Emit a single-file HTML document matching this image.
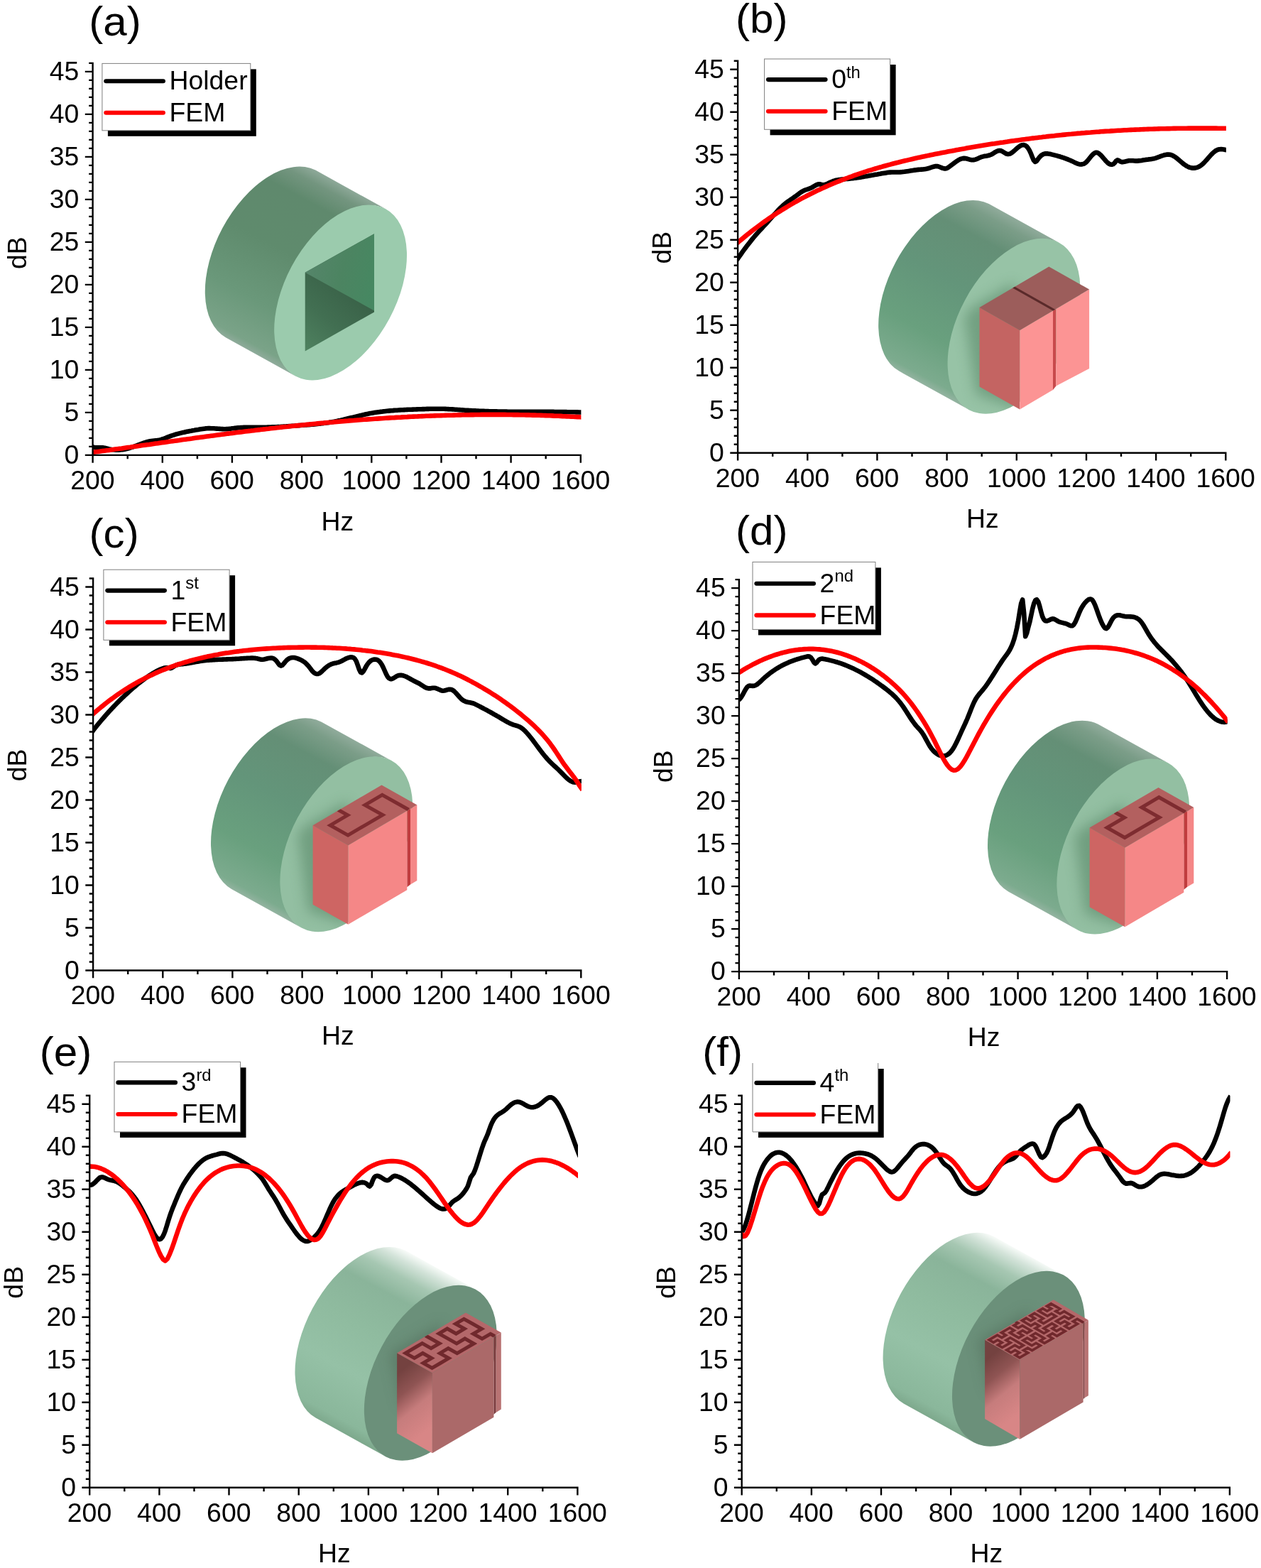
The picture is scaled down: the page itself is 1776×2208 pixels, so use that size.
<!DOCTYPE html>
<html lang="en"><head><meta charset="utf-8"><title>Transmission loss: measurement vs FEM</title>
<style>
html,body{margin:0;padding:0;background:#fff;}
body{width:1776px;height:2208px;overflow:hidden;}
svg{display:block;}
text{font-family:'Liberation Sans', Arial, Helvetica, sans-serif;fill:#000;}
.tk{font-size:36.8px;}
.lab{font-size:57px;}
.ax{stroke:#000;stroke-width:2.4;fill:none;stroke-linecap:butt;}
.cv{fill:none;stroke-width:6.6;stroke-linejoin:round;stroke-linecap:butt;}
.cvk{stroke-width:7.1;}
.lg{fill:none;stroke-width:6.1;stroke-linecap:round;}
</style></head><body>
<svg xmlns="http://www.w3.org/2000/svg" width="1776" height="2208" viewBox="0 0 1776 2208">
<rect width="1776" height="2208" fill="#fff"/>
<defs><filter id="blur8" x="-50%" y="-50%" width="200%" height="200%"><feGaussianBlur stdDeviation="9"/></filter><filter id="blur3" x="-50%" y="-50%" width="200%" height="200%"><feGaussianBlur stdDeviation="3"/></filter><linearGradient id="sga" gradientUnits="userSpaceOnUse" x1="367.2" y1="502.5" x2="493.5" y2="266.8"><stop offset="0" stop-color="#8fab9b"/><stop offset="0.04" stop-color="#7aa388"/><stop offset="0.25" stop-color="#6a987a"/><stop offset="0.55" stop-color="#5f8b6d"/><stop offset="0.84" stop-color="#5f896d"/><stop offset="0.94" stop-color="#73957f"/><stop offset="1" stop-color="#8da898"/></linearGradient><clipPath id="fca"><ellipse cx="479.6" cy="411.9" rx="133.7" ry="78.1" transform="rotate(-61.8 479.6 411.9)"/></clipPath><linearGradient id="sgb" gradientUnits="userSpaceOnUse" x1="1315.6" y1="549.9" x2="1441.9" y2="314.2"><stop offset="0" stop-color="#93b3a0"/><stop offset="0.04" stop-color="#7cab8e"/><stop offset="0.25" stop-color="#69a07e"/><stop offset="0.55" stop-color="#63957a"/><stop offset="0.82" stop-color="#648f76"/><stop offset="0.94" stop-color="#7b9d88"/><stop offset="1" stop-color="#90ab9b"/></linearGradient><clipPath id="fcb"><ellipse cx="1428" cy="459.3" rx="133.7" ry="78.1" transform="rotate(-61.8 1428 459.3)"/></clipPath><linearGradient id="sgc" gradientUnits="userSpaceOnUse" x1="375.4" y1="1279.3" x2="501.7" y2="1043.6"><stop offset="0" stop-color="#93b3a0"/><stop offset="0.04" stop-color="#7cab8e"/><stop offset="0.25" stop-color="#69a07e"/><stop offset="0.55" stop-color="#63957a"/><stop offset="0.82" stop-color="#648f76"/><stop offset="0.94" stop-color="#7b9d88"/><stop offset="1" stop-color="#90ab9b"/></linearGradient><clipPath id="fcc"><ellipse cx="487.8" cy="1188.7" rx="133.7" ry="78.1" transform="rotate(-61.8 487.8 1188.7)"/></clipPath><linearGradient id="sgd" gradientUnits="userSpaceOnUse" x1="1469.4" y1="1282.7" x2="1595.7" y2="1047"><stop offset="0" stop-color="#93b3a0"/><stop offset="0.04" stop-color="#7cab8e"/><stop offset="0.25" stop-color="#69a07e"/><stop offset="0.55" stop-color="#63957a"/><stop offset="0.82" stop-color="#648f76"/><stop offset="0.94" stop-color="#7b9d88"/><stop offset="1" stop-color="#90ab9b"/></linearGradient><clipPath id="fcd"><ellipse cx="1581.8" cy="1192.1" rx="133.7" ry="78.1" transform="rotate(-61.8 1581.8 1192.1)"/></clipPath><linearGradient id="sge" gradientUnits="userSpaceOnUse" x1="493.9" y1="2023.9" x2="620.2" y2="1788.2"><stop offset="0" stop-color="#7da88c"/><stop offset="0.06" stop-color="#8ab79b"/><stop offset="0.3" stop-color="#95c1a6"/><stop offset="0.55" stop-color="#8fbb9f"/><stop offset="0.76" stop-color="#8ab49a"/><stop offset="0.87" stop-color="#a6c7b2"/><stop offset="0.95" stop-color="#d3e3d9"/><stop offset="1" stop-color="#f6faf7"/></linearGradient><clipPath id="fce"><ellipse cx="606.3" cy="1933.3" rx="133.7" ry="78.1" transform="rotate(-61.8 606.3 1933.3)"/></clipPath><linearGradient id="sgf" gradientUnits="userSpaceOnUse" x1="1322" y1="2003.8" x2="1448.3" y2="1768.1"><stop offset="0" stop-color="#7da88c"/><stop offset="0.06" stop-color="#8ab79b"/><stop offset="0.3" stop-color="#95c1a6"/><stop offset="0.55" stop-color="#8fbb9f"/><stop offset="0.76" stop-color="#8ab49a"/><stop offset="0.87" stop-color="#a6c7b2"/><stop offset="0.95" stop-color="#d3e3d9"/><stop offset="1" stop-color="#f6faf7"/></linearGradient><clipPath id="fcf"><ellipse cx="1434.4" cy="1913.2" rx="133.7" ry="78.1" transform="rotate(-61.8 1434.4 1913.2)"/></clipPath></defs>
<g id="panel-a">
<g id="inset-a"><path d="M542.8 294.1L444.3 239.6A133.7 78.1 -61.8 0 0 317.9 475.2L416.4 529.7A133.7 78.1 -61.8 0 1 542.8 294.1Z" fill="url(#sga)"/><ellipse cx="479.6" cy="411.9" rx="133.7" ry="78.1" transform="rotate(-61.8 479.6 411.9)" fill="#9bcbad"/><defs><linearGradient id="ha1" gradientUnits="userSpaceOnUse" x1="429.7" y1="383.8" x2="527" y2="409.4"><stop offset="0" stop-color="#55856a"/><stop offset="0.5" stop-color="#4c8461"/><stop offset="1" stop-color="#468862"/></linearGradient><linearGradient id="ha2" gradientUnits="userSpaceOnUse" x1="429.7" y1="494.5" x2="507" y2="403.8"><stop offset="0" stop-color="#4f8260"/><stop offset="0.45" stop-color="#426f52"/><stop offset="1" stop-color="#385f46"/></linearGradient></defs><polygon points="429.7,383.8 527,329.3 527,439.4 429.7,494.5" fill="url(#ha2)"/><polygon points="429.7,383.8 527,329.3 527,437.4" fill="url(#ha1)"/></g>
<clipPath id="cpa"><rect x="130.6" y="82.9" width="687.8" height="558"/></clipPath>
<g clip-path="url(#cpa)">
<path class="cv" stroke="#000" stroke-width="7.6000000000000005" d="M129.3 628.7 L131.3 629.6 L133.3 630.2 L135.3 630.4 L137.3 630.4 L139.3 630.3 L141.3 630.2 L143.3 630.2 L145.3 630.4 L147.3 630.8 L149.3 631.3 L151.3 631.8 L153.3 632.3 L155.3 632.7 L157.3 633.1 L159.3 633.3 L161.3 633.5 L163.3 633.6 L165.3 633.7 L167.3 633.6 L169.3 633.5 L171.3 633.3 L173.3 633.1 L175.3 632.7 L177.3 632.3 L179.3 631.8 L181.3 631.3 L183.3 630.7 L185.3 630 L187.3 629.3 L189.3 628.6 L191.3 627.8 L193.3 627.1 L195.3 626.3 L197.3 625.6 L199.3 624.8 L201.3 624.1 L203.3 623.4 L205.3 622.8 L207.3 622.3 L209.3 621.8 L211.3 621.3 L213.3 621 L215.3 620.7 L217.3 620.5 L219.3 620.3 L221.3 620.1 L223.3 619.8 L225.3 619.4 L227.3 618.9 L229.3 618.2 L231.3 617.5 L233.3 616.7 L235.3 615.9 L237.3 615.1 L239.3 614.4 L241.3 613.7 L243.3 613 L245.3 612.3 L247.3 611.7 L249.3 611.1 L251.3 610.6 L253.3 610.1 L255.3 609.6 L257.3 609.1 L259.3 608.7 L261.3 608.2 L263.3 607.8 L265.3 607.4 L267.3 607 L269.3 606.7 L271.3 606.3 L273.3 606 L275.3 605.6 L277.3 605.3 L279.3 605 L281.3 604.6 L283.3 604.3 L285.3 604 L287.3 603.7 L289.3 603.4 L291.3 603.2 L293.3 603.1 L295.3 603.1 L297.3 603.2 L299.3 603.2 L301.3 603.3 L303.3 603.5 L305.3 603.6 L307.3 603.8 L309.3 603.9 L311.3 604 L313.3 604.1 L315.3 604.2 L317.3 604.2 L319.3 604.1 L321.3 604 L323.3 603.8 L325.3 603.6 L327.3 603.3 L329.3 603.1 L331.3 602.8 L333.3 602.6 L335.3 602.4 L337.3 602.2 L339.3 602.1 L341.3 602 L343.3 601.9 L345.3 601.8 L347.3 601.8 L349.3 601.8 L351.3 601.8 L353.3 601.8 L355.3 601.8 L357.3 601.8 L359.3 601.8 L361.3 601.8 L363.3 601.9 L365.3 601.8 L367.3 601.8 L369.3 601.8 L371.3 601.8 L373.3 601.7 L375.3 601.7 L377.3 601.6 L379.3 601.6 L381.3 601.5 L383.3 601.4 L385.3 601.4 L387.3 601.3 L389.3 601.2 L391.3 601.1 L393.3 601 L395.3 600.9 L397.3 600.7 L399.3 600.6 L401.3 600.5 L403.3 600.4 L405.3 600.2 L407.3 600.1 L409.3 600 L411.3 599.8 L413.3 599.7 L415.3 599.6 L417.3 599.4 L419.3 599.3 L421.3 599.1 L423.3 599 L425.3 598.8 L427.3 598.7 L429.3 598.5 L431.3 598.4 L433.3 598.2 L435.3 598.1 L437.3 597.9 L439.3 597.8 L441.3 597.6 L443.3 597.4 L445.3 597.2 L447.3 597 L449.3 596.8 L451.3 596.6 L453.3 596.3 L455.3 596.1 L457.3 595.8 L459.3 595.5 L461.3 595.3 L463.3 595 L465.3 594.6 L467.3 594.3 L469.3 593.9 L471.3 593.6 L473.3 593.2 L475.3 592.8 L477.3 592.3 L479.3 591.9 L481.3 591.4 L483.3 591 L485.3 590.5 L487.3 590 L489.3 589.5 L491.3 589 L493.3 588.5 L495.3 588.1 L497.3 587.6 L499.3 587.1 L501.3 586.6 L503.3 586.1 L505.3 585.6 L507.3 585.1 L509.3 584.7 L511.3 584.2 L513.3 583.8 L515.3 583.3 L517.3 582.9 L519.3 582.5 L521.3 582.1 L523.3 581.8 L525.3 581.4 L527.3 581.1 L529.3 580.8 L531.3 580.5 L533.3 580.2 L535.3 579.9 L537.3 579.7 L539.3 579.4 L541.3 579.2 L543.3 579 L545.3 578.8 L547.3 578.6 L549.3 578.4 L551.3 578.2 L553.3 578.1 L555.3 577.9 L557.3 577.8 L559.3 577.7 L561.3 577.5 L563.3 577.4 L565.3 577.3 L567.3 577.2 L569.3 577.1 L571.3 577 L573.3 576.9 L575.3 576.8 L577.3 576.8 L579.3 576.7 L581.3 576.6 L583.3 576.5 L585.3 576.5 L587.3 576.4 L589.3 576.3 L591.3 576.3 L593.3 576.2 L595.3 576.1 L597.3 576.1 L599.3 576 L601.3 575.9 L603.3 575.9 L605.3 575.8 L607.3 575.8 L609.3 575.8 L611.3 575.8 L613.3 575.7 L615.3 575.7 L617.3 575.7 L619.3 575.7 L621.3 575.8 L623.3 575.8 L625.3 575.8 L627.3 575.9 L629.3 576 L631.3 576.1 L633.3 576.2 L635.3 576.3 L637.3 576.4 L639.3 576.5 L641.3 576.7 L643.3 576.8 L645.3 577 L647.3 577.1 L649.3 577.3 L651.3 577.4 L653.3 577.5 L655.3 577.7 L657.3 577.8 L659.3 577.9 L661.3 578 L663.3 578.1 L665.3 578.2 L667.3 578.3 L669.3 578.4 L671.3 578.5 L673.3 578.6 L675.3 578.7 L677.3 578.8 L679.3 578.9 L681.3 578.9 L683.3 579 L685.3 579.1 L687.3 579.1 L689.3 579.2 L691.3 579.2 L693.3 579.3 L695.3 579.3 L697.3 579.4 L699.3 579.4 L701.3 579.5 L703.3 579.5 L705.3 579.5 L707.3 579.6 L709.3 579.6 L711.3 579.6 L713.3 579.6 L715.3 579.7 L717.3 579.7 L719.3 579.7 L721.3 579.7 L723.3 579.7 L725.3 579.7 L727.3 579.8 L729.3 579.8 L731.3 579.8 L733.3 579.8 L735.3 579.8 L737.3 579.8 L739.3 579.8 L741.3 579.8 L743.3 579.8 L745.3 579.8 L747.3 579.8 L749.3 579.8 L751.3 579.8 L753.3 579.8 L755.3 579.8 L757.3 579.9 L759.3 579.9 L761.3 579.9 L763.3 579.9 L765.3 579.9 L767.3 579.9 L769.3 579.9 L771.3 579.9 L773.3 579.9 L775.3 579.9 L777.3 579.9 L779.3 579.9 L781.3 580 L783.3 580 L785.3 580 L787.3 580 L789.3 580 L791.3 580 L793.3 580.1 L795.3 580.1 L797.3 580.1 L799.3 580.2 L801.3 580.2 L803.3 580.2 L805.3 580.3 L807.3 580.3 L809.3 580.3 L811.3 580.4 L813.3 580.4 L815.3 580.5 L817.3 580.5 L819.3 580.6 L820.4 580.6"/>
<path class="cv" stroke="#f00" stroke-width="7.2" d="M129.3 637.2 L132.3 636.7 L135.3 636.3 L138.3 635.9 L141.3 635.5 L144.3 635.1 L147.3 634.7 L150.3 634.3 L153.3 633.9 L156.3 633.4 L159.3 633 L162.3 632.6 L165.3 632.2 L168.3 631.8 L171.3 631.4 L174.3 630.9 L177.3 630.5 L180.3 630.1 L183.3 629.7 L186.3 629.2 L189.3 628.8 L192.3 628.4 L195.3 628 L198.3 627.5 L201.3 627.1 L204.3 626.7 L207.3 626.3 L210.3 625.9 L213.3 625.4 L216.3 625 L219.3 624.6 L222.3 624.2 L225.3 623.7 L228.3 623.3 L231.3 622.9 L234.3 622.5 L237.3 622 L240.3 621.6 L243.3 621.2 L246.3 620.8 L249.3 620.4 L252.3 620 L255.3 619.5 L258.3 619.1 L261.3 618.7 L264.3 618.3 L267.3 617.9 L270.3 617.5 L273.3 617 L276.3 616.6 L279.3 616.2 L282.3 615.8 L285.3 615.4 L288.3 615 L291.3 614.6 L294.3 614.2 L297.3 613.8 L300.3 613.4 L303.3 613 L306.3 612.6 L309.3 612.2 L312.3 611.8 L315.3 611.4 L318.3 611 L321.3 610.6 L324.3 610.3 L327.3 609.9 L330.3 609.5 L333.3 609.1 L336.3 608.7 L339.3 608.4 L342.3 608 L345.3 607.6 L348.3 607.2 L351.3 606.9 L354.3 606.5 L357.3 606.2 L360.3 605.8 L363.3 605.4 L366.3 605.1 L369.3 604.7 L372.3 604.4 L375.3 604 L378.3 603.7 L381.3 603.3 L384.3 603 L387.3 602.7 L390.3 602.3 L393.3 602 L396.3 601.6 L399.3 601.3 L402.3 601 L405.3 600.7 L408.3 600.3 L411.3 600 L414.3 599.7 L417.3 599.4 L420.3 599.1 L423.3 598.8 L426.3 598.5 L429.3 598.2 L432.3 597.9 L435.3 597.6 L438.3 597.3 L441.3 597 L444.3 596.7 L447.3 596.4 L450.3 596.1 L453.3 595.8 L456.3 595.6 L459.3 595.3 L462.3 595 L465.3 594.7 L468.3 594.5 L471.3 594.2 L474.3 593.9 L477.3 593.7 L480.3 593.4 L483.3 593.2 L486.3 592.9 L489.3 592.7 L492.3 592.4 L495.3 592.2 L498.3 592 L501.3 591.7 L504.3 591.5 L507.3 591.3 L510.3 591 L513.3 590.8 L516.3 590.6 L519.3 590.4 L522.3 590.2 L525.3 590 L528.3 589.8 L531.3 589.6 L534.3 589.4 L537.3 589.2 L540.3 589 L543.3 588.8 L546.3 588.6 L549.3 588.4 L552.3 588.2 L555.3 588.1 L558.3 587.9 L561.3 587.7 L564.3 587.6 L567.3 587.4 L570.3 587.2 L573.3 587.1 L576.3 586.9 L579.3 586.8 L582.3 586.6 L585.3 586.5 L588.3 586.4 L591.3 586.2 L594.3 586.1 L597.3 586 L600.3 585.8 L603.3 585.7 L606.3 585.6 L609.3 585.5 L612.3 585.4 L615.3 585.3 L618.3 585.2 L621.3 585.1 L624.3 585 L627.3 584.9 L630.3 584.8 L633.3 584.7 L636.3 584.7 L639.3 584.6 L642.3 584.5 L645.3 584.4 L648.3 584.4 L651.3 584.3 L654.3 584.3 L657.3 584.2 L660.3 584.2 L663.3 584.1 L666.3 584.1 L669.3 584 L672.3 584 L675.3 584 L678.3 583.9 L681.3 583.9 L684.3 583.9 L687.3 583.9 L690.3 583.9 L693.3 583.9 L696.3 583.9 L699.3 583.9 L702.3 583.9 L705.3 583.9 L708.3 583.9 L711.3 583.9 L714.3 584 L717.3 584 L720.3 584 L723.3 584.1 L726.3 584.1 L729.3 584.1 L732.3 584.2 L735.3 584.2 L738.3 584.3 L741.3 584.4 L744.3 584.4 L747.3 584.5 L750.3 584.6 L753.3 584.6 L756.3 584.7 L759.3 584.8 L762.3 584.9 L765.3 585 L768.3 585.1 L771.3 585.2 L774.3 585.3 L777.3 585.4 L780.3 585.6 L783.3 585.7 L786.3 585.8 L789.3 585.9 L792.3 586.1 L795.3 586.2 L798.3 586.4 L801.3 586.5 L804.3 586.7 L807.3 586.8 L810.3 587 L813.3 587.1 L816.3 587.3 L819.3 587.5 L820.4 587.6"/>
</g>
<path class="ax" d="M130.6 87.7 V642.1M129.4 640.9 H819M130.6 640.9h-10.8M130.6 628.9h-5.4M130.6 616.9h-5.4M130.6 604.9h-5.4M130.6 592.9h-5.4M130.6 580.9h-10.8M130.6 568.9h-5.4M130.6 556.9h-5.4M130.6 544.9h-5.4M130.6 532.9h-5.4M130.6 520.9h-10.8M130.6 508.9h-5.4M130.6 496.9h-5.4M130.6 484.9h-5.4M130.6 472.9h-5.4M130.6 460.9h-10.8M130.6 448.9h-5.4M130.6 436.9h-5.4M130.6 424.9h-5.4M130.6 412.9h-5.4M130.6 400.9h-10.8M130.6 388.9h-5.4M130.6 376.9h-5.4M130.6 364.9h-5.4M130.6 352.9h-5.4M130.6 340.9h-10.8M130.6 328.9h-5.4M130.6 316.9h-5.4M130.6 304.9h-5.4M130.6 292.9h-5.4M130.6 280.9h-10.8M130.6 268.9h-5.4M130.6 256.9h-5.4M130.6 244.9h-5.4M130.6 232.9h-5.4M130.6 220.9h-10.8M130.6 208.9h-5.4M130.6 196.9h-5.4M130.6 184.9h-5.4M130.6 172.9h-5.4M130.6 160.9h-10.8M130.6 148.9h-5.4M130.6 136.9h-5.4M130.6 124.9h-5.4M130.6 112.9h-5.4M130.6 100.9h-10.8M130.6 88.9h-5.4M130.6 640.9v10.8M179.7 640.9v5.4M228.8 640.9v10.8M277.9 640.9v5.4M326.9 640.9v10.8M376 640.9v5.4M425.1 640.9v10.8M474.2 640.9v5.4M523.3 640.9v10.8M572.4 640.9v5.4M621.5 640.9v10.8M670.5 640.9v5.4M719.6 640.9v10.8M768.7 640.9v5.4M817.8 640.9v10.8"/>
<text class="tk" transform="translate(111.4 652.9) scale(1.016 1)" text-anchor="end">0</text>
<text class="tk" transform="translate(111.4 592.9) scale(1.016 1)" text-anchor="end">5</text>
<text class="tk" transform="translate(111.4 532.9) scale(1.016 1)" text-anchor="end">10</text>
<text class="tk" transform="translate(111.4 472.9) scale(1.016 1)" text-anchor="end">15</text>
<text class="tk" transform="translate(111.4 412.9) scale(1.016 1)" text-anchor="end">20</text>
<text class="tk" transform="translate(111.4 352.9) scale(1.016 1)" text-anchor="end">25</text>
<text class="tk" transform="translate(111.4 292.9) scale(1.016 1)" text-anchor="end">30</text>
<text class="tk" transform="translate(111.4 232.9) scale(1.016 1)" text-anchor="end">35</text>
<text class="tk" transform="translate(111.4 172.9) scale(1.016 1)" text-anchor="end">40</text>
<text class="tk" transform="translate(111.4 112.9) scale(1.016 1)" text-anchor="end">45</text>
<text class="tk" transform="translate(130.4 688.7) scale(1.016 1)" text-anchor="middle">200</text>
<text class="tk" transform="translate(228.6 688.7) scale(1.016 1)" text-anchor="middle">400</text>
<text class="tk" transform="translate(326.7 688.7) scale(1.016 1)" text-anchor="middle">600</text>
<text class="tk" transform="translate(424.9 688.7) scale(1.016 1)" text-anchor="middle">800</text>
<text class="tk" transform="translate(523.1 688.7) scale(1.016 1)" text-anchor="middle">1000</text>
<text class="tk" transform="translate(621.3 688.7) scale(1.016 1)" text-anchor="middle">1200</text>
<text class="tk" transform="translate(719.4 688.7) scale(1.016 1)" text-anchor="middle">1400</text>
<text class="tk" transform="translate(817.6 688.7) scale(1.016 1)" text-anchor="middle">1600</text>
<text class="tk" transform="translate(475.3 746.5) scale(1.016 1)" text-anchor="middle">Hz</text>
<text class="tk" transform="translate(36.6 356.2) rotate(-90) scale(1.016 1)" text-anchor="middle">dB</text>
<text class="lab" transform="translate(125.3 50.4) scale(1.055 1)" text-anchor="start">(a)</text>
<rect x="151.9" y="97.4" width="208.9" height="94.4" fill="#000"/>
<rect x="143.9" y="89.4" width="208.9" height="94.4" fill="#fff" stroke="#7f7f7f" stroke-width="1"/>
<path class="lg" stroke="#000" d="M149.3 114.2H229.9"/>
<path class="lg" stroke="#f00" d="M149.3 158.8H229.9"/>
<text class="tk" transform="translate(238.5 126.2) scale(1.016 1)" text-anchor="start">Holder</text>
<text class="tk" transform="translate(238.5 171.1) scale(1.016 1)" text-anchor="start">FEM</text>
</g>
<g id="panel-b">
<g id="inset-b"><path d="M1491.2 341.5L1392.7 287A133.7 78.1 -61.8 0 0 1266.3 522.6L1364.8 577.1A133.7 78.1 -61.8 0 1 1491.2 341.5Z" fill="url(#sgb)"/><ellipse cx="1428" cy="459.3" rx="133.7" ry="78.1" transform="rotate(-61.8 1428 459.3)" fill="#97c3a6"/><g clip-path="url(#fcb)"><polygon points="1368.9,432.8 1427.6,398.2 1450.3,466.7 1436.3,576.5 1375,555.6 1358,445.8" fill="#5c8a6a" opacity="0.62" filter="url(#blur8)"/></g><polygon points="1379.5,433.1 1436.3,465.1 1436.3,576.5 1379.5,544.5" fill="#c46462"/><polygon points="1436.3,465.1 1483,437.6 1483,549 1436.3,576.5" fill="#fc9494"/><polygon points="1483,437.6 1487.4,435 1487.4,543.4 1483,549" fill="#c84a4c"/><polygon points="1487.4,435 1534.1,407.5 1534.1,518.9 1487.4,543.4" fill="#fc9494"/><polygon points="1379.5,433.1 1477.3,375.5 1534.1,407.5 1436.3,465.1" fill="#9c5d5b"/><polygon points="1426.2,405.6 1429.4,403.7 1486.2,435.7 1483,437.6" fill="#5a2a2a"/></g>
<clipPath id="cpb"><rect x="1039.1" y="79.7" width="687.8" height="558"/></clipPath>
<g clip-path="url(#cpb)">
<path class="cv" stroke="#000" stroke-width="6.800000000000001" d="M1037.8 366.2 L1039.8 363.2 L1041.8 360.3 L1043.8 357.5 L1045.8 354.7 L1047.8 351.9 L1049.8 349.2 L1051.8 346.6 L1053.8 344 L1055.8 341.4 L1057.8 338.9 L1059.8 336.4 L1061.8 334 L1063.8 331.6 L1065.8 329.3 L1067.8 327.1 L1069.8 324.9 L1071.8 322.7 L1073.8 320.6 L1075.8 318.4 L1077.8 316.2 L1079.8 314.1 L1081.8 311.8 L1083.8 309.6 L1085.8 307.3 L1087.8 305.1 L1089.8 302.8 L1091.8 300.6 L1093.8 298.4 L1095.8 296.2 L1097.8 294.2 L1099.8 292.2 L1101.8 290.3 L1103.8 288.5 L1105.8 286.8 L1107.8 285.2 L1109.8 283.8 L1111.8 282.4 L1113.8 281 L1115.8 279.6 L1117.8 278.2 L1119.8 276.8 L1121.8 275.3 L1123.8 273.8 L1125.8 272.3 L1127.8 270.9 L1129.8 269.7 L1131.8 268.6 L1133.8 267.7 L1135.8 267 L1137.8 266.3 L1139.8 265.6 L1141.8 264.8 L1143.8 263.9 L1145.8 262.7 L1147.8 261.5 L1149.8 260.4 L1151.8 259.6 L1153.8 259.3 L1155.8 259.6 L1157.8 260.2 L1159.8 260.4 L1161.8 260.1 L1163.8 259.4 L1165.8 258.5 L1167.8 257.5 L1169.8 256.5 L1171.8 255.7 L1173.8 254.9 L1175.8 254.3 L1177.8 253.8 L1179.8 253.4 L1181.8 253 L1183.8 252.8 L1185.8 252.5 L1187.8 252.4 L1189.8 252.2 L1191.8 252 L1193.8 251.9 L1195.8 251.7 L1197.8 251.5 L1199.8 251.3 L1201.8 251.1 L1203.8 250.8 L1205.8 250.6 L1207.8 250.3 L1209.8 250 L1211.8 249.7 L1213.8 249.3 L1215.8 249 L1217.8 248.6 L1219.8 248.3 L1221.8 247.9 L1223.8 247.6 L1225.8 247.2 L1227.8 246.8 L1229.8 246.5 L1231.8 246.1 L1233.8 245.7 L1235.8 245.4 L1237.8 245 L1239.8 244.7 L1241.8 244.3 L1243.8 244 L1245.8 243.7 L1247.8 243.4 L1249.8 243.1 L1251.8 242.8 L1253.8 242.6 L1255.8 242.5 L1257.8 242.5 L1259.8 242.5 L1261.8 242.5 L1263.8 242.5 L1265.8 242.5 L1267.8 242.4 L1269.8 242.2 L1271.8 242 L1273.8 241.8 L1275.8 241.5 L1277.8 241.2 L1279.8 240.9 L1281.8 240.6 L1283.8 240.2 L1285.8 239.9 L1287.8 239.6 L1289.8 239.4 L1291.8 239.1 L1293.8 238.9 L1295.8 238.8 L1297.8 238.6 L1299.8 238.5 L1301.8 238.2 L1303.8 237.9 L1305.8 237.6 L1307.8 237 L1309.8 236.4 L1311.8 235.7 L1313.8 235 L1315.8 234.5 L1317.8 234.1 L1319.8 234.1 L1321.8 234.5 L1323.8 235.3 L1325.8 236.1 L1327.8 236.9 L1329.8 237.4 L1331.8 237.5 L1333.8 236.8 L1335.8 235.7 L1337.8 234.2 L1339.8 232.7 L1341.8 231.2 L1343.8 229.6 L1345.8 228.1 L1347.8 226.7 L1349.8 225.4 L1351.8 224.4 L1353.8 223.6 L1355.8 223.1 L1357.8 222.9 L1359.8 223.1 L1361.8 223.5 L1363.8 224.1 L1365.8 224.7 L1367.8 225.1 L1369.8 225.3 L1371.8 225.1 L1373.8 224.6 L1375.8 223.9 L1377.8 223 L1379.8 222.1 L1381.8 221.2 L1383.8 220.6 L1385.8 220.1 L1387.8 219.7 L1389.8 219.4 L1391.8 219 L1393.8 218.5 L1395.8 217.7 L1397.8 216.7 L1399.8 215.4 L1401.8 214.2 L1403.8 213.1 L1405.8 212.3 L1407.8 212 L1409.8 212.3 L1411.8 213.2 L1413.8 214.5 L1415.8 215.7 L1417.8 216.7 L1419.8 217.1 L1421.8 216.8 L1423.8 215.9 L1425.8 214.5 L1427.8 212.9 L1429.8 211.1 L1431.8 209.3 L1433.8 207.6 L1435.8 206.1 L1437.8 204.9 L1439.8 204.2 L1441.8 204.1 L1443.8 204.6 L1445.8 206 L1447.8 208.3 L1449.8 211.7 L1451.8 215.9 L1453.8 221 L1455.8 225.6 L1457.8 227.9 L1459.8 227 L1461.8 224.3 L1463.8 221.6 L1465.8 219.5 L1467.8 218 L1469.8 217 L1471.8 216.4 L1473.8 216.3 L1475.8 216.4 L1477.8 216.7 L1479.8 217.1 L1481.8 217.6 L1483.8 218.1 L1485.8 218.6 L1487.8 219.1 L1489.8 219.7 L1491.8 220.2 L1493.8 220.9 L1495.8 221.5 L1497.8 222.2 L1499.8 222.9 L1501.8 223.6 L1503.8 224.4 L1505.8 225.2 L1507.8 226 L1509.8 226.9 L1511.8 227.9 L1513.8 228.9 L1515.8 229.8 L1517.8 230.6 L1519.8 231.2 L1521.8 231.5 L1523.8 231.4 L1525.8 230.9 L1527.8 230 L1529.8 228.4 L1531.8 226.3 L1533.8 223.8 L1535.8 221.3 L1537.8 218.8 L1539.8 216.8 L1541.8 215.3 L1543.8 214.7 L1545.8 215.1 L1547.8 216.2 L1549.8 217.9 L1551.8 220 L1553.8 222.3 L1555.8 224.7 L1557.8 227 L1559.8 229 L1561.8 230.5 L1563.8 231.5 L1565.8 231.8 L1567.8 231.2 L1569.8 229.5 L1571.8 226.8 L1573.8 225.4 L1575.8 226.1 L1577.8 227.4 L1579.8 228.1 L1581.8 228.1 L1583.8 227.8 L1585.8 227.2 L1587.8 226.7 L1589.8 226.3 L1591.8 226.2 L1593.8 226.2 L1595.8 226.3 L1597.8 226.5 L1599.8 226.6 L1601.8 226.6 L1603.8 226.4 L1605.8 226.2 L1607.8 225.9 L1609.8 225.5 L1611.8 225.2 L1613.8 224.9 L1615.8 224.7 L1617.8 224.4 L1619.8 224.2 L1621.8 223.9 L1623.8 223.6 L1625.8 223.2 L1627.8 222.6 L1629.8 221.9 L1631.8 221.2 L1633.8 220.4 L1635.8 219.7 L1637.8 219 L1639.8 218.3 L1641.8 217.9 L1643.8 217.6 L1645.8 217.5 L1647.8 217.8 L1649.8 218.3 L1651.8 219.1 L1653.8 220.3 L1655.8 221.6 L1657.8 223.2 L1659.8 224.8 L1661.8 226.6 L1663.8 228.3 L1665.8 230 L1667.8 231.5 L1669.8 232.9 L1671.8 234.1 L1673.8 235.1 L1675.8 235.9 L1677.8 236.4 L1679.8 236.6 L1681.8 236.6 L1683.8 236.4 L1685.8 235.8 L1687.8 235.1 L1689.8 234 L1691.8 232.6 L1693.8 231 L1695.8 229.1 L1697.8 226.9 L1699.8 224.7 L1701.8 222.4 L1703.8 220.1 L1705.8 217.9 L1707.8 215.9 L1709.8 214.1 L1711.8 212.5 L1713.8 211.4 L1715.8 210.6 L1717.8 210.2 L1719.8 210.1 L1721.8 210.3 L1723.8 210.5 L1725.8 210.9 L1727.6 211.2"/>
<path class="cv" stroke="#f00" stroke-width="6.4" d="M1037.8 342.7 L1040.8 340.1 L1043.8 337.6 L1046.8 335.1 L1049.8 332.6 L1052.8 330.2 L1055.8 327.8 L1058.8 325.4 L1061.8 323.1 L1064.8 320.8 L1067.8 318.6 L1070.8 316.4 L1073.8 314.2 L1076.8 312 L1079.8 309.9 L1082.8 307.8 L1085.8 305.8 L1088.8 303.8 L1091.8 301.8 L1094.8 299.8 L1097.8 297.9 L1100.8 296 L1103.8 294.1 L1106.8 292.3 L1109.8 290.5 L1112.8 288.7 L1115.8 287 L1118.8 285.2 L1121.8 283.6 L1124.8 281.9 L1127.8 280.2 L1130.8 278.6 L1133.8 277.1 L1136.8 275.5 L1139.8 274 L1142.8 272.5 L1145.8 271 L1148.8 269.5 L1151.8 268.1 L1154.8 266.7 L1157.8 265.3 L1160.8 263.9 L1163.8 262.6 L1166.8 261.3 L1169.8 260 L1172.8 258.7 L1175.8 257.5 L1178.8 256.3 L1181.8 255.1 L1184.8 253.9 L1187.8 252.7 L1190.8 251.6 L1193.8 250.5 L1196.8 249.3 L1199.8 248.3 L1202.8 247.2 L1205.8 246.1 L1208.8 245.1 L1211.8 244.1 L1214.8 243.1 L1217.8 242.1 L1220.8 241.2 L1223.8 240.2 L1226.8 239.3 L1229.8 238.4 L1232.8 237.5 L1235.8 236.6 L1238.8 235.7 L1241.8 234.9 L1244.8 234 L1247.8 233.2 L1250.8 232.4 L1253.8 231.6 L1256.8 230.8 L1259.8 230 L1262.8 229.2 L1265.8 228.5 L1268.8 227.7 L1271.8 227 L1274.8 226.3 L1277.8 225.6 L1280.8 224.9 L1283.8 224.2 L1286.8 223.5 L1289.8 222.8 L1292.8 222.1 L1295.8 221.5 L1298.8 220.8 L1301.8 220.2 L1304.8 219.6 L1307.8 218.9 L1310.8 218.3 L1313.8 217.7 L1316.8 217.1 L1319.8 216.5 L1322.8 215.9 L1325.8 215.3 L1328.8 214.7 L1331.8 214.2 L1334.8 213.6 L1337.8 213 L1340.8 212.5 L1343.8 211.9 L1346.8 211.3 L1349.8 210.8 L1352.8 210.2 L1355.8 209.7 L1358.8 209.2 L1361.8 208.6 L1364.8 208.1 L1367.8 207.6 L1370.8 207.1 L1373.8 206.6 L1376.8 206.1 L1379.8 205.6 L1382.8 205.1 L1385.8 204.6 L1388.8 204.1 L1391.8 203.6 L1394.8 203.1 L1397.8 202.6 L1400.8 202.2 L1403.8 201.7 L1406.8 201.3 L1409.8 200.8 L1412.8 200.4 L1415.8 199.9 L1418.8 199.5 L1421.8 199 L1424.8 198.6 L1427.8 198.2 L1430.8 197.8 L1433.8 197.4 L1436.8 197 L1439.8 196.6 L1442.8 196.2 L1445.8 195.8 L1448.8 195.4 L1451.8 195 L1454.8 194.6 L1457.8 194.3 L1460.8 193.9 L1463.8 193.5 L1466.8 193.2 L1469.8 192.8 L1472.8 192.5 L1475.8 192.1 L1478.8 191.8 L1481.8 191.5 L1484.8 191.2 L1487.8 190.8 L1490.8 190.5 L1493.8 190.2 L1496.8 189.9 L1499.8 189.6 L1502.8 189.3 L1505.8 189 L1508.8 188.8 L1511.8 188.5 L1514.8 188.2 L1517.8 187.9 L1520.8 187.7 L1523.8 187.4 L1526.8 187.2 L1529.8 186.9 L1532.8 186.7 L1535.8 186.5 L1538.8 186.2 L1541.8 186 L1544.8 185.8 L1547.8 185.6 L1550.8 185.3 L1553.8 185.1 L1556.8 184.9 L1559.8 184.7 L1562.8 184.6 L1565.8 184.4 L1568.8 184.2 L1571.8 184 L1574.8 183.8 L1577.8 183.7 L1580.8 183.5 L1583.8 183.3 L1586.8 183.2 L1589.8 183 L1592.8 182.9 L1595.8 182.8 L1598.8 182.6 L1601.8 182.5 L1604.8 182.4 L1607.8 182.2 L1610.8 182.1 L1613.8 182 L1616.8 181.9 L1619.8 181.8 L1622.8 181.7 L1625.8 181.6 L1628.8 181.5 L1631.8 181.4 L1634.8 181.3 L1637.8 181.3 L1640.8 181.2 L1643.8 181.1 L1646.8 181.1 L1649.8 181 L1652.8 180.9 L1655.8 180.9 L1658.8 180.8 L1661.8 180.8 L1664.8 180.7 L1667.8 180.7 L1670.8 180.7 L1673.8 180.6 L1676.8 180.6 L1679.8 180.6 L1682.8 180.6 L1685.8 180.6 L1688.8 180.6 L1691.8 180.6 L1694.8 180.6 L1697.8 180.6 L1700.8 180.6 L1703.8 180.6 L1706.8 180.6 L1709.8 180.6 L1712.8 180.6 L1715.8 180.7 L1718.8 180.7 L1721.8 180.7 L1724.8 180.8 L1727.6 180.8"/>
</g>
<path class="ax" d="M1039.1 84.5 V638.9M1037.9 637.7 H1727.5M1039.1 637.7h-10.8M1039.1 625.7h-5.4M1039.1 613.7h-5.4M1039.1 601.7h-5.4M1039.1 589.7h-5.4M1039.1 577.7h-10.8M1039.1 565.7h-5.4M1039.1 553.7h-5.4M1039.1 541.7h-5.4M1039.1 529.7h-5.4M1039.1 517.7h-10.8M1039.1 505.7h-5.4M1039.1 493.7h-5.4M1039.1 481.7h-5.4M1039.1 469.7h-5.4M1039.1 457.7h-10.8M1039.1 445.7h-5.4M1039.1 433.7h-5.4M1039.1 421.7h-5.4M1039.1 409.7h-5.4M1039.1 397.7h-10.8M1039.1 385.7h-5.4M1039.1 373.7h-5.4M1039.1 361.7h-5.4M1039.1 349.7h-5.4M1039.1 337.7h-10.8M1039.1 325.7h-5.4M1039.1 313.7h-5.4M1039.1 301.7h-5.4M1039.1 289.7h-5.4M1039.1 277.7h-10.8M1039.1 265.7h-5.4M1039.1 253.7h-5.4M1039.1 241.7h-5.4M1039.1 229.7h-5.4M1039.1 217.7h-10.8M1039.1 205.7h-5.4M1039.1 193.7h-5.4M1039.1 181.7h-5.4M1039.1 169.7h-5.4M1039.1 157.7h-10.8M1039.1 145.7h-5.4M1039.1 133.7h-5.4M1039.1 121.7h-5.4M1039.1 109.7h-5.4M1039.1 97.7h-10.8M1039.1 85.7h-5.4M1039.1 637.7v10.8M1088.2 637.7v5.4M1137.3 637.7v10.8M1186.4 637.7v5.4M1235.4 637.7v10.8M1284.5 637.7v5.4M1333.6 637.7v10.8M1382.7 637.7v5.4M1431.8 637.7v10.8M1480.9 637.7v5.4M1530 637.7v10.8M1579 637.7v5.4M1628.1 637.7v10.8M1677.2 637.7v5.4M1726.3 637.7v10.8"/>
<text class="tk" transform="translate(1019.9 649.7) scale(1.016 1)" text-anchor="end">0</text>
<text class="tk" transform="translate(1019.9 589.7) scale(1.016 1)" text-anchor="end">5</text>
<text class="tk" transform="translate(1019.9 529.7) scale(1.016 1)" text-anchor="end">10</text>
<text class="tk" transform="translate(1019.9 469.7) scale(1.016 1)" text-anchor="end">15</text>
<text class="tk" transform="translate(1019.9 409.7) scale(1.016 1)" text-anchor="end">20</text>
<text class="tk" transform="translate(1019.9 349.7) scale(1.016 1)" text-anchor="end">25</text>
<text class="tk" transform="translate(1019.9 289.7) scale(1.016 1)" text-anchor="end">30</text>
<text class="tk" transform="translate(1019.9 229.7) scale(1.016 1)" text-anchor="end">35</text>
<text class="tk" transform="translate(1019.9 169.7) scale(1.016 1)" text-anchor="end">40</text>
<text class="tk" transform="translate(1019.9 109.7) scale(1.016 1)" text-anchor="end">45</text>
<text class="tk" transform="translate(1038.9 685.5) scale(1.016 1)" text-anchor="middle">200</text>
<text class="tk" transform="translate(1137.1 685.5) scale(1.016 1)" text-anchor="middle">400</text>
<text class="tk" transform="translate(1235.2 685.5) scale(1.016 1)" text-anchor="middle">600</text>
<text class="tk" transform="translate(1333.4 685.5) scale(1.016 1)" text-anchor="middle">800</text>
<text class="tk" transform="translate(1431.6 685.5) scale(1.016 1)" text-anchor="middle">1000</text>
<text class="tk" transform="translate(1529.8 685.5) scale(1.016 1)" text-anchor="middle">1200</text>
<text class="tk" transform="translate(1627.9 685.5) scale(1.016 1)" text-anchor="middle">1400</text>
<text class="tk" transform="translate(1726.1 685.5) scale(1.016 1)" text-anchor="middle">1600</text>
<text class="tk" transform="translate(1383.8 743.3) scale(1.016 1)" text-anchor="middle">Hz</text>
<text class="tk" transform="translate(945.1 348.7) rotate(-90) scale(1.016 1)" text-anchor="middle">dB</text>
<text class="lab" transform="translate(1036 46) scale(1.055 1)" text-anchor="start">(b)</text>
<rect x="1084.6" y="91" width="177" height="99.3" fill="#000"/>
<rect x="1076.6" y="83" width="177" height="99.3" fill="#fff" stroke="#7f7f7f" stroke-width="1"/>
<path class="lg" stroke="#000" d="M1082 112.1H1162.6"/>
<path class="lg" stroke="#f00" d="M1082 156.7H1162.6"/>
<text class="tk" transform="translate(1171.2 124.1) scale(1.016 1)" text-anchor="start">0<tspan dy="-14.5" font-size="23.5px">th</tspan></text>
<text class="tk" transform="translate(1171.2 169) scale(1.016 1)" text-anchor="start">FEM</text>
</g>
<g id="panel-c">
<g id="inset-c"><path d="M551 1070.9L452.5 1016.4A133.7 78.1 -61.8 0 0 326.1 1252L424.6 1306.5A133.7 78.1 -61.8 0 1 551 1070.9Z" fill="url(#sgc)"/><ellipse cx="487.8" cy="1188.7" rx="133.7" ry="78.1" transform="rotate(-61.8 487.8 1188.7)" fill="#93bfa2"/><g clip-path="url(#fcc)"><polygon points="430.8,1162.2 488.9,1128.2 508.8,1195.2 490.4,1301.8 434.2,1283.5 419.3,1174.7" fill="#5c8a6a" opacity="0.62" filter="url(#blur8)"/></g><polygon points="440.6,1162.2 490.4,1190.2 490.4,1301.8 440.6,1273.8" fill="#ce6563"/><polygon points="578,1138.9 587.3,1133.5 587.3,1240.1 578,1245.5" fill="#f58787"/><polygon points="573.3,1141.7 578,1138.9 578,1245.5 573.3,1249.3" fill="#c03c3e"/><polygon points="490.4,1190.2 573.3,1141.7 573.3,1253.3 490.4,1301.8" fill="#f58787"/><polygon points="440.6,1162.2 537.5,1105.5 587.3,1133.5 490.4,1190.2" fill="#b3605f"/><clipPath id="tpc"><polygon points="440.6,1162.2 537.5,1105.5 587.3,1133.5 490.4,1190.2" fill="#000"/></clipPath><path d="M476.1 1140.3 L489.6 1147.8 L465.2 1162.1 L490.1 1176.1 L514.5 1161.8 L538.9 1147.6 L514 1133.6 L538.3 1119.3 L563.2 1133.3 L575.7 1140.3" fill="none" stroke="#7e2c30" stroke-width="5.0" stroke-linejoin="miter" clip-path="url(#tpc)"/></g>
<clipPath id="cpc"><rect x="131.1" y="808.5" width="687.8" height="558"/></clipPath>
<g clip-path="url(#cpc)">
<path class="cv" stroke="#000" stroke-width="7.1000000000000005" d="M129.8 1030.4 L131.8 1027.8 L133.8 1025.3 L135.8 1022.8 L137.8 1020.3 L139.8 1017.9 L141.8 1015.5 L143.8 1013.2 L145.8 1010.8 L147.8 1008.5 L149.8 1006.3 L151.8 1004 L153.8 1001.8 L155.8 999.6 L157.8 997.5 L159.8 995.4 L161.8 993.3 L163.8 991.2 L165.8 989.2 L167.8 987.2 L169.8 985.2 L171.8 983.2 L173.8 981.3 L175.8 979.4 L177.8 977.5 L179.8 975.7 L181.8 973.9 L183.8 972.1 L185.8 970.3 L187.8 968.6 L189.8 966.9 L191.8 965.2 L193.8 963.5 L195.8 961.9 L197.8 960.3 L199.8 958.8 L201.8 957.3 L203.8 955.8 L205.8 954.4 L207.8 953 L209.8 951.6 L211.8 950.3 L213.8 949.1 L215.8 947.8 L217.8 946.7 L219.8 945.5 L221.8 944.5 L223.8 943.5 L225.8 942.6 L227.8 941.8 L229.8 941.1 L231.8 940.5 L233.8 940.2 L235.8 940.3 L237.8 940.7 L239.8 941.1 L241.8 940.6 L243.8 939.3 L245.8 937.9 L247.8 936.8 L249.8 936.1 L251.8 935.7 L253.8 935.5 L255.8 935.3 L257.8 935.1 L259.8 934.8 L261.8 934.6 L263.8 934.2 L265.8 933.9 L267.8 933.6 L269.8 933.2 L271.8 932.8 L273.8 932.4 L275.8 932.1 L277.8 931.7 L279.8 931.4 L281.8 931.1 L283.8 930.8 L285.8 930.5 L287.8 930.3 L289.8 930 L291.8 929.8 L293.8 929.7 L295.8 929.5 L297.8 929.4 L299.8 929.2 L301.8 929.1 L303.8 929 L305.8 928.9 L307.8 928.8 L309.8 928.8 L311.8 928.7 L313.8 928.6 L315.8 928.5 L317.8 928.5 L319.8 928.4 L321.8 928.3 L323.8 928.3 L325.8 928.2 L327.8 928.1 L329.8 928 L331.8 927.9 L333.8 927.8 L335.8 927.7 L337.8 927.5 L339.8 927.4 L341.8 927.3 L343.8 927.1 L345.8 927 L347.8 926.9 L349.8 926.8 L351.8 926.7 L353.8 926.6 L355.8 926.6 L357.8 926.7 L359.8 926.9 L361.8 927.2 L363.8 927.8 L365.8 928.3 L367.8 928.7 L369.8 928.7 L371.8 928.5 L373.8 928.1 L375.8 927.5 L377.8 927 L379.8 926.7 L381.8 926.6 L383.8 926.8 L385.8 927.6 L387.8 929.1 L389.8 931.3 L391.8 934.1 L393.8 936.6 L395.8 937.6 L397.8 936.7 L399.8 934.4 L401.8 931.9 L403.8 929.7 L405.8 928.1 L407.8 926.9 L409.8 926.3 L411.8 926 L413.8 926 L415.8 926.3 L417.8 926.9 L419.8 927.6 L421.8 928.4 L423.8 929.3 L425.8 930.4 L427.8 931.7 L429.8 933.2 L431.8 935.1 L433.8 937.2 L435.8 939.6 L437.8 942.3 L439.8 944.9 L441.8 947 L443.8 948.3 L445.8 949 L447.8 949 L449.8 948.2 L451.8 946.8 L453.8 945 L455.8 943 L457.8 941.1 L459.8 939.4 L461.8 937.9 L463.8 936.6 L465.8 935.6 L467.8 934.8 L469.8 934.2 L471.8 933.8 L473.8 933.4 L475.8 932.9 L477.8 932.3 L479.8 931.4 L481.8 930.5 L483.8 929.4 L485.8 928.3 L487.8 927.3 L489.8 926.4 L491.8 925.8 L493.8 925.4 L495.8 925.5 L497.8 926.1 L499.8 927.8 L501.8 931.2 L503.8 936.7 L505.8 942.5 L507.8 946.6 L509.8 947.4 L511.8 945.4 L513.8 941.9 L515.8 938.1 L517.8 935 L519.8 932.5 L521.8 930.7 L523.8 929.5 L525.8 928.8 L527.8 928.5 L529.8 928.7 L531.8 929.4 L533.8 930.8 L535.8 933 L537.8 936 L539.8 940 L541.8 944.5 L543.8 949 L545.8 952.8 L547.8 955.1 L549.8 956.1 L551.8 956.1 L553.8 955.2 L555.8 954 L557.8 952.7 L559.8 951.6 L561.8 951 L563.8 950.8 L565.8 950.9 L567.8 951.3 L569.8 952 L571.8 952.8 L573.8 953.8 L575.8 954.9 L577.8 956 L579.8 957.1 L581.8 958.2 L583.8 959.2 L585.8 960.2 L587.8 961.2 L589.8 962.2 L591.8 963.4 L593.8 964.7 L595.8 966 L597.8 967.3 L599.8 968.4 L601.8 969.1 L603.8 969.4 L605.8 969.4 L607.8 969.1 L609.8 968.8 L611.8 968.8 L613.8 969.1 L615.8 969.8 L617.8 970.7 L619.8 971.6 L621.8 972.4 L623.8 972.7 L625.8 972.5 L627.8 972 L629.8 971.4 L631.8 970.9 L633.8 970.7 L635.8 971 L637.8 972 L639.8 973.5 L641.8 975.5 L643.8 977.7 L645.8 980 L647.8 982.2 L649.8 984.3 L651.8 985.9 L653.8 987.1 L655.8 988 L657.8 988.6 L659.8 988.9 L661.8 989.3 L663.8 989.7 L665.8 990.2 L667.8 990.9 L669.8 991.9 L671.8 992.9 L673.8 993.9 L675.8 994.9 L677.8 996 L679.8 997 L681.8 998.1 L683.8 999.1 L685.8 1000.2 L687.8 1001.3 L689.8 1002.4 L691.8 1003.5 L693.8 1004.6 L695.8 1005.8 L697.8 1006.9 L699.8 1008.1 L701.8 1009.2 L703.8 1010.4 L705.8 1011.6 L707.8 1012.8 L709.8 1014 L711.8 1015.2 L713.8 1016.3 L715.8 1017.4 L717.8 1018.4 L719.8 1019.3 L721.8 1020.1 L723.8 1020.8 L725.8 1021.4 L727.8 1022 L729.8 1022.7 L731.8 1023.5 L733.8 1024.6 L735.8 1026.1 L737.8 1027.8 L739.8 1029.7 L741.8 1031.9 L743.8 1034.1 L745.8 1036.5 L747.8 1039 L749.8 1041.6 L751.8 1044.2 L753.8 1046.9 L755.8 1049.6 L757.8 1052.3 L759.8 1054.9 L761.8 1057.6 L763.8 1060.2 L765.8 1062.7 L767.8 1065.2 L769.8 1067.5 L771.8 1069.8 L773.8 1071.9 L775.8 1073.9 L777.8 1075.8 L779.8 1077.7 L781.8 1079.5 L783.8 1081.3 L785.8 1083.2 L787.8 1085.1 L789.8 1087.1 L791.8 1089.1 L793.8 1091.2 L795.8 1093.3 L797.8 1095.2 L799.8 1097 L801.8 1098.6 L803.8 1099.9 L805.8 1100.9 L807.8 1101.5 L809.8 1101.6 L811.8 1101.4 L813.8 1101.1 L815.8 1100.6 L817.8 1100.2 L819.8 1099.9 L820.4 1099.9"/>
<path class="cv" stroke="#f00" stroke-width="6.7" d="M129.8 1006.6 L132.8 1003.9 L135.8 1001.3 L138.8 998.8 L141.8 996.2 L144.8 993.8 L147.8 991.4 L150.8 989 L153.8 986.7 L156.8 984.5 L159.8 982.3 L162.8 980.1 L165.8 978 L168.8 976 L171.8 974 L174.8 972 L177.8 970.1 L180.8 968.2 L183.8 966.4 L186.8 964.6 L189.8 962.8 L192.8 961.1 L195.8 959.5 L198.8 957.9 L201.8 956.3 L204.8 954.7 L207.8 953.2 L210.8 951.8 L213.8 950.4 L216.8 949 L219.8 947.6 L222.8 946.3 L225.8 945 L228.8 943.8 L231.8 942.6 L234.8 941.4 L237.8 940.3 L240.8 939.2 L243.8 938.1 L246.8 937 L249.8 936 L252.8 935 L255.8 934.1 L258.8 933.1 L261.8 932.2 L264.8 931.4 L267.8 930.5 L270.8 929.7 L273.8 928.9 L276.8 928.1 L279.8 927.4 L282.8 926.7 L285.8 926 L288.8 925.3 L291.8 924.6 L294.8 924 L297.8 923.4 L300.8 922.8 L303.8 922.2 L306.8 921.7 L309.8 921.1 L312.8 920.6 L315.8 920.1 L318.8 919.6 L321.8 919.2 L324.8 918.7 L327.8 918.3 L330.8 917.8 L333.8 917.4 L336.8 917.1 L339.8 916.7 L342.8 916.3 L345.8 916 L348.8 915.7 L351.8 915.4 L354.8 915.1 L357.8 914.8 L360.8 914.5 L363.8 914.2 L366.8 914 L369.8 913.8 L372.8 913.6 L375.8 913.4 L378.8 913.2 L381.8 913 L384.8 912.8 L387.8 912.7 L390.8 912.5 L393.8 912.4 L396.8 912.3 L399.8 912.1 L402.8 912 L405.8 911.9 L408.8 911.9 L411.8 911.8 L414.8 911.7 L417.8 911.7 L420.8 911.6 L423.8 911.6 L426.8 911.6 L429.8 911.5 L432.8 911.5 L435.8 911.5 L438.8 911.6 L441.8 911.6 L444.8 911.6 L447.8 911.7 L450.8 911.7 L453.8 911.8 L456.8 911.9 L459.8 912 L462.8 912.1 L465.8 912.2 L468.8 912.4 L471.8 912.5 L474.8 912.7 L477.8 912.8 L480.8 913 L483.8 913.2 L486.8 913.4 L489.8 913.7 L492.8 913.9 L495.8 914.2 L498.8 914.4 L501.8 914.7 L504.8 915 L507.8 915.3 L510.8 915.7 L513.8 916 L516.8 916.4 L519.8 916.7 L522.8 917.1 L525.8 917.5 L528.8 917.9 L531.8 918.4 L534.8 918.8 L537.8 919.3 L540.8 919.8 L543.8 920.3 L546.8 920.8 L549.8 921.3 L552.8 921.9 L555.8 922.5 L558.8 923 L561.8 923.6 L564.8 924.3 L567.8 924.9 L570.8 925.6 L573.8 926.3 L576.8 927 L579.8 927.7 L582.8 928.5 L585.8 929.3 L588.8 930.1 L591.8 930.9 L594.8 931.8 L597.8 932.6 L600.8 933.5 L603.8 934.5 L606.8 935.4 L609.8 936.4 L612.8 937.4 L615.8 938.5 L618.8 939.6 L621.8 940.7 L624.8 941.8 L627.8 943 L630.8 944.2 L633.8 945.4 L636.8 946.7 L639.8 948 L642.8 949.3 L645.8 950.7 L648.8 952.1 L651.8 953.5 L654.8 955 L657.8 956.5 L660.8 958.1 L663.8 959.6 L666.8 961.3 L669.8 962.9 L672.8 964.6 L675.8 966.3 L678.8 968 L681.8 969.8 L684.8 971.6 L687.8 973.4 L690.8 975.3 L693.8 977.2 L696.8 979.1 L699.8 981.1 L702.8 983.1 L705.8 985.1 L708.8 987.2 L711.8 989.3 L714.8 991.5 L717.8 993.6 L720.8 995.9 L723.8 998.2 L726.8 1000.5 L729.8 1002.8 L732.8 1005.2 L735.8 1007.7 L738.8 1010.2 L741.8 1012.7 L744.8 1015.3 L747.8 1018 L750.8 1020.7 L753.8 1023.6 L756.8 1026.5 L759.8 1029.6 L762.8 1032.7 L765.8 1036.1 L768.8 1039.6 L771.8 1043.2 L774.8 1047.1 L777.8 1051.2 L780.8 1055.5 L783.8 1060 L786.8 1064.6 L789.8 1069.3 L792.8 1073.8 L795.8 1078.1 L798.8 1082.1 L801.8 1086 L804.8 1089.8 L807.8 1093.7 L810.8 1097.9 L813.8 1102.4 L816.8 1107.1 L819.8 1111.5 L820.4 1112.3"/>
</g>
<path class="ax" d="M131.1 813.3 V1367.7M129.9 1366.5 H819.5M131.1 1366.5h-10.8M131.1 1354.5h-5.4M131.1 1342.5h-5.4M131.1 1330.5h-5.4M131.1 1318.5h-5.4M131.1 1306.5h-10.8M131.1 1294.5h-5.4M131.1 1282.5h-5.4M131.1 1270.5h-5.4M131.1 1258.5h-5.4M131.1 1246.5h-10.8M131.1 1234.5h-5.4M131.1 1222.5h-5.4M131.1 1210.5h-5.4M131.1 1198.5h-5.4M131.1 1186.5h-10.8M131.1 1174.5h-5.4M131.1 1162.5h-5.4M131.1 1150.5h-5.4M131.1 1138.5h-5.4M131.1 1126.5h-10.8M131.1 1114.5h-5.4M131.1 1102.5h-5.4M131.1 1090.5h-5.4M131.1 1078.5h-5.4M131.1 1066.5h-10.8M131.1 1054.5h-5.4M131.1 1042.5h-5.4M131.1 1030.5h-5.4M131.1 1018.5h-5.4M131.1 1006.5h-10.8M131.1 994.5h-5.4M131.1 982.5h-5.4M131.1 970.5h-5.4M131.1 958.5h-5.4M131.1 946.5h-10.8M131.1 934.5h-5.4M131.1 922.5h-5.4M131.1 910.5h-5.4M131.1 898.5h-5.4M131.1 886.5h-10.8M131.1 874.5h-5.4M131.1 862.5h-5.4M131.1 850.5h-5.4M131.1 838.5h-5.4M131.1 826.5h-10.8M131.1 814.5h-5.4M131.1 1366.5v10.8M180.2 1366.5v5.4M229.3 1366.5v10.8M278.4 1366.5v5.4M327.4 1366.5v10.8M376.5 1366.5v5.4M425.6 1366.5v10.8M474.7 1366.5v5.4M523.8 1366.5v10.8M572.9 1366.5v5.4M622 1366.5v10.8M671 1366.5v5.4M720.1 1366.5v10.8M769.2 1366.5v5.4M818.3 1366.5v10.8"/>
<text class="tk" transform="translate(111.9 1378.5) scale(1.016 1)" text-anchor="end">0</text>
<text class="tk" transform="translate(111.9 1318.5) scale(1.016 1)" text-anchor="end">5</text>
<text class="tk" transform="translate(111.9 1258.5) scale(1.016 1)" text-anchor="end">10</text>
<text class="tk" transform="translate(111.9 1198.5) scale(1.016 1)" text-anchor="end">15</text>
<text class="tk" transform="translate(111.9 1138.5) scale(1.016 1)" text-anchor="end">20</text>
<text class="tk" transform="translate(111.9 1078.5) scale(1.016 1)" text-anchor="end">25</text>
<text class="tk" transform="translate(111.9 1018.5) scale(1.016 1)" text-anchor="end">30</text>
<text class="tk" transform="translate(111.9 958.5) scale(1.016 1)" text-anchor="end">35</text>
<text class="tk" transform="translate(111.9 898.5) scale(1.016 1)" text-anchor="end">40</text>
<text class="tk" transform="translate(111.9 838.5) scale(1.016 1)" text-anchor="end">45</text>
<text class="tk" transform="translate(130.9 1414.3) scale(1.016 1)" text-anchor="middle">200</text>
<text class="tk" transform="translate(229.1 1414.3) scale(1.016 1)" text-anchor="middle">400</text>
<text class="tk" transform="translate(327.2 1414.3) scale(1.016 1)" text-anchor="middle">600</text>
<text class="tk" transform="translate(425.4 1414.3) scale(1.016 1)" text-anchor="middle">800</text>
<text class="tk" transform="translate(523.6 1414.3) scale(1.016 1)" text-anchor="middle">1000</text>
<text class="tk" transform="translate(621.8 1414.3) scale(1.016 1)" text-anchor="middle">1200</text>
<text class="tk" transform="translate(719.9 1414.3) scale(1.016 1)" text-anchor="middle">1400</text>
<text class="tk" transform="translate(818.1 1414.3) scale(1.016 1)" text-anchor="middle">1600</text>
<text class="tk" transform="translate(475.8 1471.1) scale(1.016 1)" text-anchor="middle">Hz</text>
<text class="tk" transform="translate(37.1 1077.5) rotate(-90) scale(1.016 1)" text-anchor="middle">dB</text>
<text class="lab" transform="translate(125.6 770.5) scale(1.055 1)" text-anchor="start">(c)</text>
<rect x="153.9" y="810.2" width="177.2" height="99.1" fill="#000"/>
<rect x="145.9" y="802.2" width="177.2" height="99.1" fill="#fff" stroke="#7f7f7f" stroke-width="1"/>
<path class="lg" stroke="#000" d="M151.3 831.6H231.9"/>
<path class="lg" stroke="#f00" d="M151.3 876.2H231.9"/>
<text class="tk" transform="translate(240.5 843.6) scale(1.016 1)" text-anchor="start">1<tspan dy="-14.5" font-size="23.5px">st</tspan></text>
<text class="tk" transform="translate(240.5 888.5) scale(1.016 1)" text-anchor="start">FEM</text>
</g>
<g id="panel-d">
<g id="inset-d"><path d="M1645 1074.3L1546.5 1019.8A133.7 78.1 -61.8 0 0 1420.1 1255.4L1518.6 1309.9A133.7 78.1 -61.8 0 1 1645 1074.3Z" fill="url(#sgd)"/><ellipse cx="1581.8" cy="1192.1" rx="133.7" ry="78.1" transform="rotate(-61.8 1581.8 1192.1)" fill="#93bfa2"/><g clip-path="url(#fcd)"><polygon points="1524.8,1165.6 1582.9,1131.6 1602.8,1198.6 1584.4,1305.2 1528.2,1286.9 1513.3,1178.1" fill="#5c8a6a" opacity="0.62" filter="url(#blur8)"/></g><polygon points="1534.6,1165.6 1584.4,1193.6 1584.4,1305.2 1534.6,1277.2" fill="#ce6563"/><polygon points="1672,1142.3 1681.3,1136.9 1681.3,1243.5 1672,1248.9" fill="#f58787"/><polygon points="1667.3,1145.1 1672,1142.3 1672,1248.9 1667.3,1252.7" fill="#c03c3e"/><polygon points="1584.4,1193.6 1667.3,1145.1 1667.3,1256.7 1584.4,1305.2" fill="#f58787"/><polygon points="1534.6,1165.6 1631.5,1108.9 1681.3,1136.9 1584.4,1193.6" fill="#b3605f"/><clipPath id="tpd"><polygon points="1534.6,1165.6 1631.5,1108.9 1681.3,1136.9 1584.4,1193.6" fill="#000"/></clipPath><path d="M1570.1 1143.7 L1583.6 1151.2 L1559.2 1165.5 L1584.1 1179.5 L1608.5 1165.2 L1632.9 1151 L1608 1137 L1632.3 1122.7 L1657.2 1136.7 L1669.7 1143.7" fill="none" stroke="#7e2c30" stroke-width="5.0" stroke-linejoin="miter" clip-path="url(#tpd)"/></g>
<clipPath id="cpd"><rect x="1040.9" y="810.1" width="687.8" height="558"/></clipPath>
<g clip-path="url(#cpd)">
<path class="cv" stroke="#000" stroke-width="6.800000000000001" d="M1040.2 986 L1042.2 984 L1044.2 981.3 L1046.2 978 L1048.2 974.2 L1050.2 970.6 L1052.2 967.6 L1054.2 966 L1056.2 965.6 L1058.2 965.7 L1060.2 965.9 L1062.2 965.8 L1064.2 965 L1066.2 963.8 L1068.2 962.2 L1070.2 960.5 L1072.2 958.6 L1074.2 956.7 L1076.2 954.8 L1078.2 953.1 L1080.2 951.4 L1082.2 949.8 L1084.2 948.2 L1086.2 946.7 L1088.2 945.3 L1090.2 943.9 L1092.2 942.6 L1094.2 941.3 L1096.2 940.1 L1098.2 938.9 L1100.2 937.8 L1102.2 936.8 L1104.2 935.8 L1106.2 934.8 L1108.2 933.9 L1110.2 933 L1112.2 932.1 L1114.2 931.3 L1116.2 930.6 L1118.2 929.9 L1120.2 929.2 L1122.2 928.5 L1124.2 927.9 L1126.2 927.3 L1128.2 926.7 L1130.2 926.1 L1132.2 925.6 L1134.2 925.1 L1136.2 924.6 L1138.2 924.3 L1140.2 924.6 L1142.2 926 L1144.2 928.9 L1146.2 932.5 L1148.2 934.4 L1150.2 933.1 L1152.2 930.4 L1154.2 928.5 L1156.2 927.7 L1158.2 927.6 L1160.2 927.9 L1162.2 928.3 L1164.2 928.7 L1166.2 929.1 L1168.2 929.6 L1170.2 930.1 L1172.2 930.6 L1174.2 931.1 L1176.2 931.7 L1178.2 932.2 L1180.2 932.9 L1182.2 933.5 L1184.2 934.2 L1186.2 934.9 L1188.2 935.6 L1190.2 936.4 L1192.2 937.2 L1194.2 938 L1196.2 938.9 L1198.2 939.8 L1200.2 940.7 L1202.2 941.6 L1204.2 942.6 L1206.2 943.6 L1208.2 944.6 L1210.2 945.6 L1212.2 946.7 L1214.2 947.8 L1216.2 949 L1218.2 950.1 L1220.2 951.3 L1222.2 952.5 L1224.2 953.8 L1226.2 955 L1228.2 956.3 L1230.2 957.6 L1232.2 959 L1234.2 960.3 L1236.2 961.7 L1238.2 963.1 L1240.2 964.6 L1242.2 966 L1244.2 967.5 L1246.2 969 L1248.2 970.5 L1250.2 972.1 L1252.2 973.7 L1254.2 975.4 L1256.2 977.1 L1258.2 979 L1260.2 980.9 L1262.2 982.9 L1264.2 985.1 L1266.2 987.5 L1268.2 989.9 L1270.2 992.6 L1272.2 995.4 L1274.2 998.4 L1276.2 1001.5 L1278.2 1004.6 L1280.2 1007.8 L1282.2 1010.9 L1284.2 1013.9 L1286.2 1016.7 L1288.2 1019.4 L1290.2 1021.9 L1292.2 1024.1 L1294.2 1026.2 L1296.2 1028.4 L1298.2 1031 L1300.2 1034 L1302.2 1037.4 L1304.2 1041.1 L1306.2 1044.8 L1308.2 1048.4 L1310.2 1051.7 L1312.2 1054.5 L1314.2 1056.9 L1316.2 1058.9 L1318.2 1060.6 L1320.2 1061.9 L1322.2 1063.1 L1324.2 1063.9 L1326.2 1064.4 L1328.2 1064.6 L1330.2 1064.4 L1332.2 1063.9 L1334.2 1062.9 L1336.2 1061.5 L1338.2 1059.7 L1340.2 1057.3 L1342.2 1054.5 L1344.2 1051.1 L1346.2 1047.3 L1348.2 1043.2 L1350.2 1038.9 L1352.2 1034.5 L1354.2 1030 L1356.2 1025.6 L1358.2 1021.3 L1360.2 1017 L1362.2 1012.5 L1364.2 1007.6 L1366.2 1002.5 L1368.2 997.4 L1370.2 992.5 L1372.2 988.1 L1374.2 984.4 L1376.2 981.3 L1378.2 978.6 L1380.2 976.1 L1382.2 973.8 L1384.2 971.5 L1386.2 969 L1388.2 966.4 L1390.2 963.6 L1392.2 960.7 L1394.2 957.6 L1396.2 954.5 L1398.2 951.4 L1400.2 948.2 L1402.2 945 L1404.2 941.8 L1406.2 938.6 L1408.2 935.5 L1410.2 932.4 L1412.2 929.4 L1414.2 926.6 L1416.2 923.9 L1418.2 921.2 L1420.2 918.3 L1422.2 915 L1424.2 911 L1426.2 906.2 L1428.2 900.3 L1430.2 893 L1432.2 884.2 L1434.2 873.6 L1436.2 861 L1438.2 849.7 L1440.2 844.5 L1442.2 863.6 L1444.2 896.3 L1446.2 891.4 L1448.2 883.5 L1450.2 876.2 L1452.2 866.9 L1454.2 857.4 L1456.2 849.8 L1458.2 845.3 L1460.2 844.3 L1462.2 847.1 L1464.2 853.5 L1466.2 861.4 L1468.2 868.3 L1470.2 872.4 L1472.2 874.2 L1474.2 874.5 L1476.2 873.9 L1478.2 873 L1480.2 872 L1482.2 871.4 L1484.2 871.6 L1486.2 872.5 L1488.2 873.7 L1490.2 874.9 L1492.2 875.8 L1494.2 876.4 L1496.2 876.9 L1498.2 877.4 L1500.2 877.8 L1502.2 878.5 L1504.2 879.4 L1506.2 880.5 L1508.2 881.3 L1510.2 881.2 L1512.2 879.8 L1514.2 876.6 L1516.2 872.2 L1518.2 867.2 L1520.2 862.3 L1522.2 857.9 L1524.2 854.3 L1526.2 851.3 L1528.2 848.8 L1530.2 846.6 L1532.2 844.9 L1534.2 843.7 L1536.2 843.6 L1538.2 844.7 L1540.2 847.6 L1542.2 851.9 L1544.2 857.2 L1546.2 862.9 L1548.2 868.5 L1550.2 873.6 L1552.2 878.1 L1554.2 881.8 L1556.2 884.4 L1558.2 885.2 L1560.2 883.5 L1562.2 880.2 L1564.2 876.3 L1566.2 872.5 L1568.2 869.7 L1570.2 867.8 L1572.2 866.7 L1574.2 866.2 L1576.2 866.2 L1578.2 866.6 L1580.2 867.1 L1582.2 867.6 L1584.2 868 L1586.2 868.2 L1588.2 868.3 L1590.2 868.3 L1592.2 868.4 L1594.2 868.5 L1596.2 868.8 L1598.2 869.2 L1600.2 870 L1602.2 871.1 L1604.2 872.5 L1606.2 874.5 L1608.2 877 L1610.2 880 L1612.2 883.4 L1614.2 886.9 L1616.2 890.4 L1618.2 893.7 L1620.2 896.8 L1622.2 899.7 L1624.2 902.3 L1626.2 904.9 L1628.2 907.2 L1630.2 909.5 L1632.2 911.7 L1634.2 913.7 L1636.2 915.7 L1638.2 917.7 L1640.2 919.7 L1642.2 921.6 L1644.2 923.6 L1646.2 925.6 L1648.2 927.7 L1650.2 929.8 L1652.2 932 L1654.2 934.3 L1656.2 936.6 L1658.2 939 L1660.2 941.5 L1662.2 944 L1664.2 946.6 L1666.2 949.4 L1668.2 952.2 L1670.2 955.1 L1672.2 958.1 L1674.2 961.2 L1676.2 964.5 L1678.2 967.7 L1680.2 971 L1682.2 974.4 L1684.2 977.7 L1686.2 981 L1688.2 984.2 L1690.2 987.4 L1692.2 990.4 L1694.2 993.3 L1696.2 996.1 L1698.2 998.8 L1700.2 1001.3 L1702.2 1003.6 L1704.2 1005.8 L1706.2 1007.8 L1708.2 1009.7 L1710.2 1011.3 L1712.2 1012.8 L1714.2 1014 L1716.2 1015 L1718.2 1015.8 L1720.2 1016.4 L1722.2 1016.8 L1724.2 1016.9 L1726.2 1016.7 L1728.2 1016.3 L1729.8 1015.8"/>
<path class="cv" stroke="#f00" stroke-width="6.4" d="M1040.2 947.5 L1043.2 945.6 L1046.2 943.7 L1049.2 941.9 L1052.2 940.2 L1055.2 938.5 L1058.2 936.8 L1061.2 935.2 L1064.2 933.7 L1067.2 932.2 L1070.2 930.8 L1073.2 929.5 L1076.2 928.1 L1079.2 926.9 L1082.2 925.7 L1085.2 924.6 L1088.2 923.5 L1091.2 922.4 L1094.2 921.5 L1097.2 920.6 L1100.2 919.7 L1103.2 918.9 L1106.2 918.2 L1109.2 917.5 L1112.2 916.8 L1115.2 916.3 L1118.2 915.8 L1121.2 915.3 L1124.2 914.9 L1127.2 914.6 L1130.2 914.4 L1133.2 914.1 L1136.2 914 L1139.2 913.9 L1142.2 913.9 L1145.2 913.9 L1148.2 914 L1151.2 914.2 L1154.2 914.4 L1157.2 914.7 L1160.2 915.1 L1163.2 915.5 L1166.2 916 L1169.2 916.5 L1172.2 917.1 L1175.2 917.8 L1178.2 918.5 L1181.2 919.3 L1184.2 920.2 L1187.2 921.1 L1190.2 922.1 L1193.2 923.2 L1196.2 924.3 L1199.2 925.5 L1202.2 926.7 L1205.2 928.1 L1208.2 929.5 L1211.2 930.9 L1214.2 932.4 L1217.2 934 L1220.2 935.7 L1223.2 937.4 L1226.2 939.2 L1229.2 941.1 L1232.2 943.1 L1235.2 945.1 L1238.2 947.1 L1241.2 949.3 L1244.2 951.5 L1247.2 953.9 L1250.2 956.3 L1253.2 958.8 L1256.2 961.4 L1259.2 964.1 L1262.2 966.9 L1265.2 969.8 L1268.2 972.9 L1271.2 976.1 L1274.2 979.4 L1277.2 982.9 L1280.2 986.5 L1283.2 990.3 L1286.2 994.3 L1289.2 998.4 L1292.2 1002.6 L1295.2 1007.1 L1298.2 1011.7 L1301.2 1016.5 L1304.2 1021.5 L1307.2 1026.7 L1310.2 1032.2 L1313.2 1037.8 L1316.2 1043.6 L1319.2 1049.7 L1322.2 1055.8 L1325.2 1061.9 L1328.2 1067.6 L1331.2 1072.9 L1334.2 1077.4 L1337.2 1081 L1340.2 1083.6 L1343.2 1084.8 L1346.2 1084.5 L1349.2 1082.8 L1352.2 1079.9 L1355.2 1076 L1358.2 1071.3 L1361.2 1066.1 L1364.2 1060.5 L1367.2 1054.7 L1370.2 1048.9 L1373.2 1043.2 L1376.2 1037.5 L1379.2 1031.9 L1382.2 1026.5 L1385.2 1021.2 L1388.2 1016.1 L1391.2 1011.1 L1394.2 1006.3 L1397.2 1001.6 L1400.2 997.1 L1403.2 992.7 L1406.2 988.5 L1409.2 984.4 L1412.2 980.4 L1415.2 976.6 L1418.2 973 L1421.2 969.4 L1424.2 966 L1427.2 962.7 L1430.2 959.6 L1433.2 956.6 L1436.2 953.7 L1439.2 950.9 L1442.2 948.2 L1445.2 945.6 L1448.2 943.2 L1451.2 940.9 L1454.2 938.6 L1457.2 936.5 L1460.2 934.5 L1463.2 932.6 L1466.2 930.8 L1469.2 929.1 L1472.2 927.4 L1475.2 925.9 L1478.2 924.5 L1481.2 923.1 L1484.2 921.9 L1487.2 920.7 L1490.2 919.6 L1493.2 918.5 L1496.2 917.6 L1499.2 916.7 L1502.2 915.9 L1505.2 915.2 L1508.2 914.6 L1511.2 914 L1514.2 913.5 L1517.2 913 L1520.2 912.6 L1523.2 912.3 L1526.2 912 L1529.2 911.8 L1532.2 911.6 L1535.2 911.5 L1538.2 911.5 L1541.2 911.5 L1544.2 911.5 L1547.2 911.6 L1550.2 911.7 L1553.2 911.9 L1556.2 912 L1559.2 912.3 L1562.2 912.6 L1565.2 912.9 L1568.2 913.2 L1571.2 913.6 L1574.2 914.1 L1577.2 914.5 L1580.2 915.1 L1583.2 915.6 L1586.2 916.2 L1589.2 916.9 L1592.2 917.6 L1595.2 918.4 L1598.2 919.2 L1601.2 920 L1604.2 920.9 L1607.2 921.9 L1610.2 922.9 L1613.2 924 L1616.2 925.1 L1619.2 926.3 L1622.2 927.5 L1625.2 928.8 L1628.2 930.1 L1631.2 931.5 L1634.2 933 L1637.2 934.5 L1640.2 936.1 L1643.2 937.8 L1646.2 939.5 L1649.2 941.3 L1652.2 943.2 L1655.2 945.1 L1658.2 947.1 L1661.2 949.1 L1664.2 951.2 L1667.2 953.4 L1670.2 955.7 L1673.2 958 L1676.2 960.4 L1679.2 962.9 L1682.2 965.5 L1685.2 968.1 L1688.2 970.8 L1691.2 973.6 L1694.2 976.5 L1697.2 979.4 L1700.2 982.5 L1703.2 985.6 L1706.2 988.8 L1709.2 992.1 L1712.2 995.4 L1715.2 998.9 L1718.2 1002.4 L1721.2 1006 L1724.2 1009.7 L1727.2 1013.5 L1729.8 1016.9"/>
</g>
<path class="ax" d="M1040.9 814.9 V1369.3M1039.7 1368.1 H1729.3M1040.9 1368.1h-10.8M1040.9 1356.1h-5.4M1040.9 1344.1h-5.4M1040.9 1332.1h-5.4M1040.9 1320.1h-5.4M1040.9 1308.1h-10.8M1040.9 1296.1h-5.4M1040.9 1284.1h-5.4M1040.9 1272.1h-5.4M1040.9 1260.1h-5.4M1040.9 1248.1h-10.8M1040.9 1236.1h-5.4M1040.9 1224.1h-5.4M1040.9 1212.1h-5.4M1040.9 1200.1h-5.4M1040.9 1188.1h-10.8M1040.9 1176.1h-5.4M1040.9 1164.1h-5.4M1040.9 1152.1h-5.4M1040.9 1140.1h-5.4M1040.9 1128.1h-10.8M1040.9 1116.1h-5.4M1040.9 1104.1h-5.4M1040.9 1092.1h-5.4M1040.9 1080.1h-5.4M1040.9 1068.1h-10.8M1040.9 1056.1h-5.4M1040.9 1044.1h-5.4M1040.9 1032.1h-5.4M1040.9 1020.1h-5.4M1040.9 1008.1h-10.8M1040.9 996.1h-5.4M1040.9 984.1h-5.4M1040.9 972.1h-5.4M1040.9 960.1h-5.4M1040.9 948.1h-10.8M1040.9 936.1h-5.4M1040.9 924.1h-5.4M1040.9 912.1h-5.4M1040.9 900.1h-5.4M1040.9 888.1h-10.8M1040.9 876.1h-5.4M1040.9 864.1h-5.4M1040.9 852.1h-5.4M1040.9 840.1h-5.4M1040.9 828.1h-10.8M1040.9 816.1h-5.4M1040.9 1368.1v10.8M1090 1368.1v5.4M1139.1 1368.1v10.8M1188.2 1368.1v5.4M1237.2 1368.1v10.8M1286.3 1368.1v5.4M1335.4 1368.1v10.8M1384.5 1368.1v5.4M1433.6 1368.1v10.8M1482.7 1368.1v5.4M1531.8 1368.1v10.8M1580.8 1368.1v5.4M1629.9 1368.1v10.8M1679 1368.1v5.4M1728.1 1368.1v10.8"/>
<text class="tk" transform="translate(1021.7 1380.1) scale(1.016 1)" text-anchor="end">0</text>
<text class="tk" transform="translate(1021.7 1320.1) scale(1.016 1)" text-anchor="end">5</text>
<text class="tk" transform="translate(1021.7 1260.1) scale(1.016 1)" text-anchor="end">10</text>
<text class="tk" transform="translate(1021.7 1200.1) scale(1.016 1)" text-anchor="end">15</text>
<text class="tk" transform="translate(1021.7 1140.1) scale(1.016 1)" text-anchor="end">20</text>
<text class="tk" transform="translate(1021.7 1080.1) scale(1.016 1)" text-anchor="end">25</text>
<text class="tk" transform="translate(1021.7 1020.1) scale(1.016 1)" text-anchor="end">30</text>
<text class="tk" transform="translate(1021.7 960.1) scale(1.016 1)" text-anchor="end">35</text>
<text class="tk" transform="translate(1021.7 900.1) scale(1.016 1)" text-anchor="end">40</text>
<text class="tk" transform="translate(1021.7 840.1) scale(1.016 1)" text-anchor="end">45</text>
<text class="tk" transform="translate(1040.7 1415.9) scale(1.016 1)" text-anchor="middle">200</text>
<text class="tk" transform="translate(1138.9 1415.9) scale(1.016 1)" text-anchor="middle">400</text>
<text class="tk" transform="translate(1237 1415.9) scale(1.016 1)" text-anchor="middle">600</text>
<text class="tk" transform="translate(1335.2 1415.9) scale(1.016 1)" text-anchor="middle">800</text>
<text class="tk" transform="translate(1433.4 1415.9) scale(1.016 1)" text-anchor="middle">1000</text>
<text class="tk" transform="translate(1531.6 1415.9) scale(1.016 1)" text-anchor="middle">1200</text>
<text class="tk" transform="translate(1629.7 1415.9) scale(1.016 1)" text-anchor="middle">1400</text>
<text class="tk" transform="translate(1727.9 1415.9) scale(1.016 1)" text-anchor="middle">1600</text>
<text class="tk" transform="translate(1385.6 1473.1) scale(1.016 1)" text-anchor="middle">Hz</text>
<text class="tk" transform="translate(946.9 1079.1) rotate(-90) scale(1.016 1)" text-anchor="middle">dB</text>
<text class="lab" transform="translate(1036 766.6) scale(1.055 1)" text-anchor="start">(d)</text>
<rect x="1068" y="799.4" width="172.9" height="95" fill="#000"/>
<rect x="1060" y="791.4" width="172.9" height="95" fill="#fff" stroke="#7f7f7f" stroke-width="1"/>
<path class="lg" stroke="#000" d="M1065.4 821.8H1146"/>
<path class="lg" stroke="#f00" d="M1065.4 866.4H1146"/>
<text class="tk" transform="translate(1154.6 833.8) scale(1.016 1)" text-anchor="start">2<tspan dy="-14.5" font-size="23.5px">nd</tspan></text>
<text class="tk" transform="translate(1154.6 878.7) scale(1.016 1)" text-anchor="start">FEM</text>
</g>
<g id="panel-e">
<g id="inset-e"><path d="M669.5 1815.5L571 1761A133.7 78.1 -61.8 0 0 444.6 1996.6L543.1 2051.1A133.7 78.1 -61.8 0 1 669.5 1815.5Z" fill="url(#sge)"/><ellipse cx="606.3" cy="1933.3" rx="133.7" ry="78.1" transform="rotate(-61.8 606.3 1933.3)" fill="#6b907a"/><g clip-path="url(#fce)"><polygon points="549.3,1905.3 621.9,1862.8 632.2,1924.9 608.9,2001.1 564.3,1975.9" fill="#4f6b58" opacity="0.5" filter="url(#blur8)"/></g><defs><linearGradient id="lfe" gradientUnits="userSpaceOnUse" x1="559.1" y1="1935.3" x2="614.9" y2="2003.4"><stop offset="0" stop-color="#744240"/><stop offset="0.3" stop-color="#8f5453"/><stop offset="0.6" stop-color="#c67c7c"/><stop offset="1" stop-color="#d88686"/></linearGradient></defs><polygon points="559.1,1905.3 608.9,1933.3 608.9,2046.3 559.1,2018.3" fill="url(#lfe)"/><polygon points="698.5,1880.9 705.8,1876.6 705.8,1984.6 698.5,1988.9" fill="#b87373"/><polygon points="695.4,1882.7 698.5,1880.9 698.5,1988.9 695.4,1991.7" fill="#7a3a3c"/><polygon points="608.9,1933.3 695.4,1882.7 695.4,1995.7 608.9,2046.3" fill="#ab6969"/><polygon points="559.1,1905.3 656,1848.6 705.8,1876.6 608.9,1933.3" fill="#b4686a"/><clipPath id="tpe"><polygon points="559.1,1905.3 656,1848.6 705.8,1876.6 608.9,1933.3" fill="#000"/></clipPath><path d="M599.2 1880.7 L606.4 1884.7 L618.9 1891.7 L607.1 1898.6 L594.7 1891.6 L582.9 1898.5 L571.2 1905.4 L583.6 1912.4 L595.4 1905.5 L607.8 1912.5 L596.1 1919.4 L608.5 1926.4 L620.3 1919.5 L632 1912.6 L619.6 1905.6 L631.3 1898.7 L643.8 1905.7 L655.5 1898.9 L667.3 1892 L654.8 1885 L643.1 1891.9 L630.6 1884.9 L618.2 1877.9 L629.9 1871 L642.4 1878 L654.1 1871.1 L641.7 1864.1 L653.4 1857.3 L665.9 1864.3 L678.3 1871.3 L666.6 1878.1 L679 1885.1 L690.8 1878.3 L697 1881.8" fill="none" stroke="#70292d" stroke-width="5.0" stroke-linejoin="miter" clip-path="url(#tpe)"/></g>
<clipPath id="cpe"><rect x="126.2" y="1536.8" width="687.8" height="558"/></clipPath>
<g clip-path="url(#cpe)">
<path class="cv" stroke="#000" stroke-width="7.300000000000001" d="M124.8 1668.1 L126.8 1668.7 L128.8 1668.5 L130.8 1667.5 L132.8 1665.9 L134.8 1664 L136.8 1661.8 L138.8 1659.8 L140.8 1658.2 L142.8 1657.5 L144.8 1657.6 L146.8 1658.3 L148.8 1659.2 L150.8 1660.2 L152.8 1661.1 L154.8 1661.6 L156.8 1662.1 L158.8 1662.4 L160.8 1662.9 L162.8 1663.5 L164.8 1664.3 L166.8 1665.4 L168.8 1666.7 L170.8 1668.2 L172.8 1669.7 L174.8 1671.4 L176.8 1673 L178.8 1674.8 L180.8 1676.5 L182.8 1678.4 L184.8 1680.5 L186.8 1682.7 L188.8 1685.2 L190.8 1687.9 L192.8 1690.9 L194.8 1694.1 L196.8 1697.5 L198.8 1701.1 L200.8 1704.8 L202.8 1708.7 L204.8 1712.6 L206.8 1716.6 L208.8 1720.7 L210.8 1724.8 L212.8 1728.8 L214.8 1732.9 L216.8 1736.8 L218.8 1740.2 L220.8 1743 L222.8 1744.8 L224.8 1745.3 L226.8 1744.4 L228.8 1742 L230.8 1738.1 L232.8 1732.8 L234.8 1726.5 L236.8 1719.8 L238.8 1713.4 L240.8 1707.6 L242.8 1702.3 L244.8 1697.4 L246.8 1692.5 L248.8 1687.7 L250.8 1683 L252.8 1678.5 L254.8 1674.3 L256.8 1670.5 L258.8 1666.9 L260.8 1663.7 L262.8 1660.6 L264.8 1657.6 L266.8 1654.7 L268.8 1651.9 L270.8 1649.3 L272.8 1646.7 L274.8 1644.3 L276.8 1642 L278.8 1639.9 L280.8 1637.9 L282.8 1636.1 L284.8 1634.4 L286.8 1632.9 L288.8 1631.6 L290.8 1630.5 L292.8 1629.6 L294.8 1628.8 L296.8 1628.1 L298.8 1627.5 L300.8 1626.9 L302.8 1626.4 L304.8 1625.9 L306.8 1625.3 L308.8 1624.8 L310.8 1624.3 L312.8 1624.1 L314.8 1624 L316.8 1624.3 L318.8 1624.7 L320.8 1625.4 L322.8 1626.2 L324.8 1627.1 L326.8 1628.1 L328.8 1629.1 L330.8 1630.2 L332.8 1631.2 L334.8 1632.3 L336.8 1633.4 L338.8 1634.5 L340.8 1635.7 L342.8 1636.9 L344.8 1638.2 L346.8 1639.5 L348.8 1640.8 L350.8 1642.3 L352.8 1643.8 L354.8 1645.4 L356.8 1647.1 L358.8 1648.8 L360.8 1650.7 L362.8 1652.7 L364.8 1654.8 L366.8 1657 L368.8 1659.4 L370.8 1662.1 L372.8 1665.2 L374.8 1668.5 L376.8 1671.9 L378.8 1675.2 L380.8 1678.3 L382.8 1681.3 L384.8 1684.3 L386.8 1687.5 L388.8 1690.8 L390.8 1694.3 L392.8 1698 L394.8 1701.8 L396.8 1705.5 L398.8 1709.1 L400.8 1712.6 L402.8 1715.8 L404.8 1718.9 L406.8 1721.8 L408.8 1724.7 L410.8 1727.6 L412.8 1730.5 L414.8 1733.3 L416.8 1736.1 L418.8 1738.6 L420.8 1741 L422.8 1743.2 L424.8 1745 L426.8 1746.4 L428.8 1747.4 L430.8 1748 L432.8 1748 L434.8 1747.5 L436.8 1746.6 L438.8 1745.3 L440.8 1743.7 L442.8 1741.9 L444.8 1739.9 L446.8 1737.7 L448.8 1735.1 L450.8 1732.1 L452.8 1728.5 L454.8 1724.6 L456.8 1720.2 L458.8 1715.6 L460.8 1710.9 L462.8 1706.2 L464.8 1701.6 L466.8 1697.4 L468.8 1693.5 L470.8 1690.1 L472.8 1687.2 L474.8 1684.7 L476.8 1682.5 L478.8 1680.6 L480.8 1679 L482.8 1677.6 L484.8 1676.4 L486.8 1675.2 L488.8 1674.1 L490.8 1673 L492.8 1671.9 L494.8 1670.7 L496.8 1669.7 L498.8 1668.6 L500.8 1667.7 L502.8 1666.8 L504.8 1666.1 L506.8 1665.5 L508.8 1665.1 L510.8 1664.9 L512.8 1665.2 L514.8 1666 L516.8 1667.3 L518.8 1669.5 L520.8 1670.6 L522.8 1668 L524.8 1662.5 L526.8 1658.4 L528.8 1656.4 L530.8 1655.8 L532.8 1656.1 L534.8 1656.9 L536.8 1658 L538.8 1659.3 L540.8 1660.6 L542.8 1661.6 L544.8 1662.2 L546.8 1662 L548.8 1660.7 L550.8 1658.9 L552.8 1657.2 L554.8 1656.1 L556.8 1655.9 L558.8 1656.3 L560.8 1657 L562.8 1657.8 L564.8 1658.8 L566.8 1659.8 L568.8 1660.9 L570.8 1662.1 L572.8 1663.4 L574.8 1664.8 L576.8 1666.2 L578.8 1667.7 L580.8 1669.3 L582.8 1670.9 L584.8 1672.5 L586.8 1674.2 L588.8 1676 L590.8 1677.7 L592.8 1679.5 L594.8 1681.3 L596.8 1683.1 L598.8 1684.9 L600.8 1686.7 L602.8 1688.5 L604.8 1690.2 L606.8 1692 L608.8 1693.7 L610.8 1695.3 L612.8 1696.8 L614.8 1698.3 L616.8 1699.7 L618.8 1700.9 L620.8 1701.8 L622.8 1702.4 L624.8 1702.5 L626.8 1702.2 L628.8 1701.3 L630.8 1699.9 L632.8 1697.7 L634.8 1695.4 L636.8 1693.1 L638.8 1691.4 L640.8 1690.1 L642.8 1688.9 L644.8 1687.7 L646.8 1686.1 L648.8 1684.3 L650.8 1682.2 L652.8 1679.8 L654.8 1677.1 L656.8 1674.2 L658.8 1670.5 L660.8 1664.5 L662.8 1658.2 L664.8 1655.3 L666.8 1652.6 L668.8 1648.1 L670.8 1642.5 L672.8 1636.3 L674.8 1629.8 L676.8 1623.3 L678.8 1617.1 L680.8 1611.3 L682.8 1606.3 L684.8 1602 L686.8 1597.3 L688.8 1591.7 L690.8 1586.1 L692.8 1581.3 L694.8 1577.4 L696.8 1574.3 L698.8 1571.9 L700.8 1570.1 L702.8 1568.6 L704.8 1567.4 L706.8 1566.3 L708.8 1565 L710.8 1563.6 L712.8 1561.9 L714.8 1560 L716.8 1558.1 L718.8 1556.3 L720.8 1554.7 L722.8 1553.4 L724.8 1552.4 L726.8 1551.9 L728.8 1551.6 L730.8 1551.8 L732.8 1552.3 L734.8 1553.1 L736.8 1554.2 L738.8 1555.3 L740.8 1556.5 L742.8 1557.5 L744.8 1558.4 L746.8 1558.9 L748.8 1559.2 L750.8 1559.2 L752.8 1558.8 L754.8 1558.2 L756.8 1557.3 L758.8 1556.1 L760.8 1554.7 L762.8 1553.2 L764.8 1551.5 L766.8 1549.8 L768.8 1548.1 L770.8 1546.7 L772.8 1545.6 L774.8 1545.2 L776.8 1545.4 L778.8 1546.4 L780.8 1548 L782.8 1550.2 L784.8 1552.8 L786.8 1555.8 L788.8 1559.3 L790.8 1563 L792.8 1567.2 L794.8 1571.6 L796.8 1576.2 L798.8 1581.1 L800.8 1586.2 L802.8 1591.5 L804.8 1596.9 L806.8 1602.4 L808.8 1607.8 L810.8 1613.3 L812.8 1618.8 L814.8 1624.1 L816.7 1628.8"/>
<path class="cv" stroke="#f00" stroke-width="6.9" d="M124.8 1642.7 L127.8 1642.6 L130.8 1642.7 L133.8 1643.1 L136.8 1643.7 L139.8 1644.6 L142.8 1645.7 L145.8 1647 L148.8 1648.5 L151.8 1650.2 L154.8 1652.2 L157.8 1654.3 L160.8 1656.7 L163.8 1659.2 L166.8 1662 L169.8 1664.9 L172.8 1668 L175.8 1671.4 L178.8 1674.9 L181.8 1678.7 L184.8 1682.8 L187.8 1687.1 L190.8 1691.7 L193.8 1696.6 L196.8 1701.8 L199.8 1707.3 L202.8 1713.1 L205.8 1719.3 L208.8 1725.9 L211.8 1732.8 L214.8 1740.1 L217.8 1747.8 L220.8 1755.4 L223.8 1762.6 L226.8 1768.8 L229.8 1773.4 L232.8 1775.4 L235.8 1772.6 L238.8 1766.4 L241.8 1758.8 L244.8 1750.3 L247.8 1741.4 L250.8 1732.5 L253.8 1724.1 L256.8 1716.3 L259.8 1709.2 L262.8 1702.8 L265.8 1696.8 L268.8 1691.4 L271.8 1686.3 L274.8 1681.6 L277.8 1677.2 L280.8 1673.1 L283.8 1669.3 L286.8 1665.8 L289.8 1662.6 L292.8 1659.7 L295.8 1657 L298.8 1654.6 L301.8 1652.4 L304.8 1650.5 L307.8 1648.8 L310.8 1647.2 L313.8 1645.9 L316.8 1644.8 L319.8 1643.9 L322.8 1643.1 L325.8 1642.5 L328.8 1642 L331.8 1641.7 L334.8 1641.5 L337.8 1641.5 L340.8 1641.6 L343.8 1641.9 L346.8 1642.4 L349.8 1643.1 L352.8 1643.9 L355.8 1644.9 L358.8 1646.1 L361.8 1647.5 L364.8 1649.1 L367.8 1650.9 L370.8 1652.8 L373.8 1655 L376.8 1657.5 L379.8 1660.1 L382.8 1663 L385.8 1666 L388.8 1669.4 L391.8 1672.9 L394.8 1676.7 L397.8 1680.8 L400.8 1685 L403.8 1689.6 L406.8 1694.3 L409.8 1699.3 L412.8 1704.5 L415.8 1709.9 L418.8 1715.5 L421.8 1721 L424.8 1726.5 L427.8 1731.5 L430.8 1736.1 L433.8 1740 L436.8 1743 L439.8 1745.1 L442.8 1746 L445.8 1745.5 L448.8 1743.6 L451.8 1740.1 L454.8 1735.3 L457.8 1729.7 L460.8 1723.8 L463.8 1718 L466.8 1712.3 L469.8 1706.7 L472.8 1701.3 L475.8 1696 L478.8 1690.9 L481.8 1686 L484.8 1681.2 L487.8 1676.7 L490.8 1672.4 L493.8 1668.4 L496.8 1664.6 L499.8 1661.1 L502.8 1657.8 L505.8 1654.8 L508.8 1652.1 L511.8 1649.6 L514.8 1647.3 L517.8 1645.3 L520.8 1643.4 L523.8 1641.8 L526.8 1640.4 L529.8 1639.2 L532.8 1638.1 L535.8 1637.2 L538.8 1636.5 L541.8 1636 L544.8 1635.5 L547.8 1635.2 L550.8 1635.1 L553.8 1635.1 L556.8 1635.2 L559.8 1635.5 L562.8 1636 L565.8 1636.6 L568.8 1637.4 L571.8 1638.4 L574.8 1639.6 L577.8 1641.1 L580.8 1642.7 L583.8 1644.5 L586.8 1646.5 L589.8 1648.8 L592.8 1651.3 L595.8 1654.1 L598.8 1657.1 L601.8 1660.3 L604.8 1663.9 L607.8 1667.7 L610.8 1671.7 L613.8 1675.8 L616.8 1680.1 L619.8 1684.5 L622.8 1688.9 L625.8 1693.3 L628.8 1697.5 L631.8 1701.7 L634.8 1705.7 L637.8 1709.4 L640.8 1712.9 L643.8 1716 L646.8 1718.8 L649.8 1721.1 L652.8 1722.9 L655.8 1724.1 L658.8 1724.7 L661.8 1724.5 L664.8 1723.5 L667.8 1721.7 L670.8 1719.1 L673.8 1715.8 L676.8 1712 L679.8 1707.8 L682.8 1703.3 L685.8 1698.8 L688.8 1694.3 L691.8 1690 L694.8 1685.7 L697.8 1681.5 L700.8 1677.4 L703.8 1673.5 L706.8 1669.7 L709.8 1666 L712.8 1662.5 L715.8 1659.2 L718.8 1656 L721.8 1653.1 L724.8 1650.3 L727.8 1647.7 L730.8 1645.4 L733.8 1643.2 L736.8 1641.3 L739.8 1639.6 L742.8 1638.1 L745.8 1636.9 L748.8 1635.8 L751.8 1634.9 L754.8 1634.3 L757.8 1633.8 L760.8 1633.5 L763.8 1633.4 L766.8 1633.5 L769.8 1633.8 L772.8 1634.2 L775.8 1634.8 L778.8 1635.6 L781.8 1636.5 L784.8 1637.6 L787.8 1638.8 L790.8 1640.2 L793.8 1641.7 L796.8 1643.3 L799.8 1645.1 L802.8 1647 L805.8 1649.1 L808.8 1651.2 L811.8 1653.5 L814.8 1655.8 L816.7 1657.3"/>
</g>
<path class="ax" d="M126.2 1541.6 V2096M125 2094.8 H814.6M126.2 2094.8h-10.8M126.2 2082.8h-5.4M126.2 2070.8h-5.4M126.2 2058.8h-5.4M126.2 2046.8h-5.4M126.2 2034.8h-10.8M126.2 2022.8h-5.4M126.2 2010.8h-5.4M126.2 1998.8h-5.4M126.2 1986.8h-5.4M126.2 1974.8h-10.8M126.2 1962.8h-5.4M126.2 1950.8h-5.4M126.2 1938.8h-5.4M126.2 1926.8h-5.4M126.2 1914.8h-10.8M126.2 1902.8h-5.4M126.2 1890.8h-5.4M126.2 1878.8h-5.4M126.2 1866.8h-5.4M126.2 1854.8h-10.8M126.2 1842.8h-5.4M126.2 1830.8h-5.4M126.2 1818.8h-5.4M126.2 1806.8h-5.4M126.2 1794.8h-10.8M126.2 1782.8h-5.4M126.2 1770.8h-5.4M126.2 1758.8h-5.4M126.2 1746.8h-5.4M126.2 1734.8h-10.8M126.2 1722.8h-5.4M126.2 1710.8h-5.4M126.2 1698.8h-5.4M126.2 1686.8h-5.4M126.2 1674.8h-10.8M126.2 1662.8h-5.4M126.2 1650.8h-5.4M126.2 1638.8h-5.4M126.2 1626.8h-5.4M126.2 1614.8h-10.8M126.2 1602.8h-5.4M126.2 1590.8h-5.4M126.2 1578.8h-5.4M126.2 1566.8h-5.4M126.2 1554.8h-10.8M126.2 1542.8h-5.4M126.2 2094.8v10.8M175.3 2094.8v5.4M224.4 2094.8v10.8M273.5 2094.8v5.4M322.5 2094.8v10.8M371.6 2094.8v5.4M420.7 2094.8v10.8M469.8 2094.8v5.4M518.9 2094.8v10.8M568 2094.8v5.4M617.1 2094.8v10.8M666.1 2094.8v5.4M715.2 2094.8v10.8M764.3 2094.8v5.4M813.4 2094.8v10.8"/>
<text class="tk" transform="translate(107 2106.8) scale(1.016 1)" text-anchor="end">0</text>
<text class="tk" transform="translate(107 2046.8) scale(1.016 1)" text-anchor="end">5</text>
<text class="tk" transform="translate(107 1986.8) scale(1.016 1)" text-anchor="end">10</text>
<text class="tk" transform="translate(107 1926.8) scale(1.016 1)" text-anchor="end">15</text>
<text class="tk" transform="translate(107 1866.8) scale(1.016 1)" text-anchor="end">20</text>
<text class="tk" transform="translate(107 1806.8) scale(1.016 1)" text-anchor="end">25</text>
<text class="tk" transform="translate(107 1746.8) scale(1.016 1)" text-anchor="end">30</text>
<text class="tk" transform="translate(107 1686.8) scale(1.016 1)" text-anchor="end">35</text>
<text class="tk" transform="translate(107 1626.8) scale(1.016 1)" text-anchor="end">40</text>
<text class="tk" transform="translate(107 1566.8) scale(1.016 1)" text-anchor="end">45</text>
<text class="tk" transform="translate(126 2142.6) scale(1.016 1)" text-anchor="middle">200</text>
<text class="tk" transform="translate(224.2 2142.6) scale(1.016 1)" text-anchor="middle">400</text>
<text class="tk" transform="translate(322.3 2142.6) scale(1.016 1)" text-anchor="middle">600</text>
<text class="tk" transform="translate(420.5 2142.6) scale(1.016 1)" text-anchor="middle">800</text>
<text class="tk" transform="translate(518.7 2142.6) scale(1.016 1)" text-anchor="middle">1000</text>
<text class="tk" transform="translate(616.9 2142.6) scale(1.016 1)" text-anchor="middle">1200</text>
<text class="tk" transform="translate(715 2142.6) scale(1.016 1)" text-anchor="middle">1400</text>
<text class="tk" transform="translate(813.2 2142.6) scale(1.016 1)" text-anchor="middle">1600</text>
<text class="tk" transform="translate(470.9 2200.4) scale(1.016 1)" text-anchor="middle">Hz</text>
<text class="tk" transform="translate(32.2 1805.8) rotate(-90) scale(1.016 1)" text-anchor="middle">dB</text>
<text class="lab" transform="translate(55.7 1500.5) scale(1.055 1)" text-anchor="start">(e)</text>
<rect x="169" y="1503.3" width="177.5" height="98.6" fill="#000"/>
<rect x="161" y="1495.3" width="177.5" height="98.6" fill="#fff" stroke="#7f7f7f" stroke-width="1"/>
<path class="lg" stroke="#000" d="M166.4 1524.4H247"/>
<path class="lg" stroke="#f00" d="M166.4 1569H247"/>
<text class="tk" transform="translate(255.6 1536.4) scale(1.016 1)" text-anchor="start">3<tspan dy="-14.5" font-size="23.5px">rd</tspan></text>
<text class="tk" transform="translate(255.6 1581.3) scale(1.016 1)" text-anchor="start">FEM</text>
</g>
<g id="panel-f">
<g id="inset-f"><path d="M1497.6 1795.4L1399.1 1740.9A133.7 78.1 -61.8 0 0 1272.7 1976.5L1371.2 2031A133.7 78.1 -61.8 0 1 1497.6 1795.4Z" fill="url(#sgf)"/><ellipse cx="1434.4" cy="1913.2" rx="133.7" ry="78.1" transform="rotate(-61.8 1434.4 1913.2)" fill="#6b907a"/><g clip-path="url(#fcf)"><polygon points="1377.4,1886.7 1449.8,1844.4 1459.8,1906 1436.3,1982.1 1392.2,1956.6" fill="#4f6b58" opacity="0.5" filter="url(#blur8)"/></g><defs><linearGradient id="lff" gradientUnits="userSpaceOnUse" x1="1387.1" y1="1916.7" x2="1442.3" y2="1984.4"><stop offset="0" stop-color="#744240"/><stop offset="0.3" stop-color="#8f5453"/><stop offset="0.6" stop-color="#c67c7c"/><stop offset="1" stop-color="#d88686"/></linearGradient></defs><polygon points="1387.1,1886.7 1436.3,1915.3 1436.3,2026.7 1387.1,1998.1" fill="url(#lff)"/><polygon points="1527.3,1862.2 1532.9,1858.9 1532.9,1965.3 1527.3,1968.6" fill="#b87373"/><polygon points="1525.6,1863.2 1527.3,1862.2 1527.3,1968.6 1525.6,1970.6" fill="#7a3a3c"/><polygon points="1436.3,1915.3 1525.6,1863.2 1525.6,1974.6 1436.3,2026.7" fill="#ab6969"/><polygon points="1387.1,1886.7 1483.7,1830.3 1532.9,1858.9 1436.3,1915.3" fill="#b4686a"/><clipPath id="tpf"><polygon points="1387.1,1886.7 1483.7,1830.3 1532.9,1858.9 1436.3,1915.3" fill="#000"/></clipPath><path d="M1429.7 1860.7 L1433.8 1863 L1428 1866.4 L1434.1 1870 L1439.9 1866.6 L1446.1 1870.2 L1452.2 1873.8 L1446.4 1877.1 L1440.3 1873.6 L1434.5 1877 L1440.6 1880.5 L1434.8 1883.9 L1428.6 1880.4 L1422.5 1876.8 L1428.3 1873.4 L1422.2 1869.8 L1416.3 1873.2 L1410.5 1876.6 L1416.7 1880.2 L1410.9 1883.6 L1404.7 1880 L1398.9 1883.4 L1393.1 1886.8 L1399.2 1890.4 L1405 1887 L1411.2 1890.5 L1405.4 1893.9 L1411.5 1897.5 L1417.3 1894.1 L1423.2 1890.7 L1417 1887.2 L1422.8 1883.8 L1429 1887.3 L1435.1 1890.9 L1441.3 1894.5 L1435.5 1897.9 L1429.3 1894.3 L1423.5 1897.7 L1417.7 1901.1 L1423.8 1904.7 L1429.6 1901.3 L1435.8 1904.8 L1430 1908.2 L1436.1 1911.8 L1441.9 1908.4 L1447.8 1905 L1441.6 1901.5 L1447.4 1898.1 L1453.6 1901.6 L1459.4 1898.2 L1465.2 1894.8 L1459.1 1891.3 L1453.2 1894.7 L1447.1 1891.1 L1440.9 1887.5 L1446.8 1884.1 L1452.9 1887.7 L1458.7 1884.3 L1452.6 1880.7 L1458.4 1877.3 L1464.5 1880.9 L1470.7 1884.5 L1464.9 1887.9 L1471 1891.4 L1476.8 1888.1 L1482.6 1884.7 L1476.5 1881.1 L1482.3 1877.7 L1488.5 1881.3 L1494.3 1877.9 L1500.1 1874.5 L1493.9 1870.9 L1488.1 1874.3 L1482 1870.7 L1487.8 1867.3 L1481.6 1863.7 L1475.8 1867.1 L1470 1870.5 L1476.2 1874.1 L1470.3 1877.5 L1464.2 1873.9 L1458 1870.4 L1463.9 1867 L1457.7 1863.4 L1451.9 1866.8 L1445.7 1863.2 L1439.6 1859.6 L1445.4 1856.2 L1451.6 1859.8 L1457.4 1856.4 L1451.2 1852.8 L1457 1849.4 L1463.2 1853 L1469.3 1856.6 L1463.5 1860 L1469.7 1863.6 L1475.5 1860.2 L1481.3 1856.8 L1487.1 1853.4 L1481 1849.8 L1475.2 1853.2 L1469 1849.6 L1462.9 1846.1 L1468.7 1842.7 L1474.8 1846.2 L1480.6 1842.8 L1474.5 1839.3 L1480.3 1835.9 L1486.5 1839.4 L1492.6 1843 L1486.8 1846.4 L1492.9 1850 L1498.8 1846.6 L1504.9 1850.2 L1511.1 1853.7 L1505.2 1857.1 L1499.1 1853.6 L1493.3 1857 L1487.5 1860.4 L1493.6 1863.9 L1499.4 1860.5 L1505.6 1864.1 L1499.8 1867.5 L1505.9 1871.1 L1511.7 1867.7 L1517.5 1864.3 L1511.4 1860.7 L1517.2 1857.3 L1523.4 1860.9 L1526.4 1862.7" fill="none" stroke="#70292d" stroke-width="3.6" stroke-linejoin="miter" clip-path="url(#tpf)"/></g>
<clipPath id="cpf"><rect x="1044.7" y="1536.8" width="687.8" height="558"/></clipPath>
<g clip-path="url(#cpf)">
<path class="cv" stroke="#000" stroke-width="7.1000000000000005" d="M1043.9 1735.1 L1045.9 1733.4 L1047.9 1729.9 L1049.9 1724.8 L1051.9 1718.7 L1053.9 1711.8 L1055.9 1704.3 L1057.9 1696.6 L1059.9 1688.7 L1061.9 1680.8 L1063.9 1673.2 L1065.9 1665.9 L1067.9 1659.2 L1069.9 1653.2 L1071.9 1648.1 L1073.9 1643.6 L1075.9 1639.8 L1077.9 1636.5 L1079.9 1633.6 L1081.9 1631.1 L1083.9 1628.9 L1085.9 1627 L1087.9 1625.5 L1089.9 1624.4 L1091.9 1623.5 L1093.9 1623 L1095.9 1622.8 L1097.9 1622.8 L1099.9 1623.2 L1101.9 1623.9 L1103.9 1624.8 L1105.9 1626 L1107.9 1627.5 L1109.9 1629.2 L1111.9 1631.2 L1113.9 1633.4 L1115.9 1635.9 L1117.9 1638.6 L1119.9 1641.5 L1121.9 1644.6 L1123.9 1647.9 L1125.9 1651.5 L1127.9 1655.2 L1129.9 1659.1 L1131.9 1663.1 L1133.9 1667.4 L1135.9 1671.6 L1137.9 1675.9 L1139.9 1680 L1141.9 1684 L1143.9 1687.7 L1145.9 1691 L1147.9 1693.9 L1149.9 1696.2 L1151.9 1697.7 L1153.9 1694.5 L1155.9 1687.1 L1157.9 1682.1 L1159.9 1680.9 L1161.9 1679.4 L1163.9 1676.5 L1165.9 1672.6 L1167.9 1668.4 L1169.9 1664.3 L1171.9 1660.4 L1173.9 1656.5 L1175.9 1652.8 L1177.9 1649.3 L1179.9 1646 L1181.9 1642.9 L1183.9 1640 L1185.9 1637.4 L1187.9 1635 L1189.9 1632.9 L1191.9 1631 L1193.9 1629.4 L1195.9 1628 L1197.9 1626.8 L1199.9 1625.9 L1201.9 1625.1 L1203.9 1624.5 L1205.9 1624.1 L1207.9 1623.8 L1209.9 1623.6 L1211.9 1623.6 L1213.9 1623.7 L1215.9 1623.9 L1217.9 1624.2 L1219.9 1624.7 L1221.9 1625.2 L1223.9 1625.9 L1225.9 1626.8 L1227.9 1627.8 L1229.9 1629 L1231.9 1630.4 L1233.9 1631.9 L1235.9 1633.7 L1237.9 1635.6 L1239.9 1637.6 L1241.9 1639.6 L1243.9 1641.7 L1245.9 1643.7 L1247.9 1645.7 L1249.9 1647.5 L1251.9 1648.9 L1253.9 1650 L1255.9 1650.4 L1257.9 1650.1 L1259.9 1648.9 L1261.9 1647.1 L1263.9 1644.9 L1265.9 1642.4 L1267.9 1639.9 L1269.9 1637.5 L1271.9 1635.2 L1273.9 1633 L1275.9 1630.8 L1277.9 1628.6 L1279.9 1626.3 L1281.9 1623.7 L1283.9 1621.1 L1285.9 1618.6 L1287.9 1616.4 L1289.9 1614.7 L1291.9 1613.4 L1293.9 1612.4 L1295.9 1611.7 L1297.9 1611.3 L1299.9 1611.1 L1301.9 1611.1 L1303.9 1611.4 L1305.9 1611.9 L1307.9 1612.8 L1309.9 1613.9 L1311.9 1615.3 L1313.9 1617 L1315.9 1619.1 L1317.9 1621.5 L1319.9 1624.3 L1321.9 1627.4 L1323.9 1630.7 L1325.9 1633.8 L1327.9 1636.6 L1329.9 1638.9 L1331.9 1640.5 L1333.9 1641.9 L1335.9 1643.3 L1337.9 1645.2 L1339.9 1647.5 L1341.9 1650.4 L1343.9 1653.7 L1345.9 1657.2 L1347.9 1660.8 L1349.9 1664.3 L1351.9 1667.5 L1353.9 1670.2 L1355.9 1672.5 L1357.9 1674.4 L1359.9 1676.1 L1361.9 1677.4 L1363.9 1678.5 L1365.9 1679.5 L1367.9 1680.2 L1369.9 1680.7 L1371.9 1681 L1373.9 1681 L1375.9 1680.7 L1377.9 1680 L1379.9 1679.1 L1381.9 1677.8 L1383.9 1676.1 L1385.9 1674 L1387.9 1671.5 L1389.9 1668.7 L1391.9 1665.7 L1393.9 1662.6 L1395.9 1659.3 L1397.9 1656 L1399.9 1652.8 L1401.9 1649.7 L1403.9 1646.8 L1405.9 1644.2 L1407.9 1641.9 L1409.9 1639.9 L1411.9 1638.3 L1413.9 1636.9 L1415.9 1635.8 L1417.9 1634.8 L1419.9 1634 L1421.9 1633.3 L1423.9 1632.6 L1425.9 1631.9 L1427.9 1630.8 L1429.9 1629.1 L1431.9 1626.8 L1433.9 1624.2 L1435.9 1621.9 L1437.9 1619.9 L1439.9 1618.3 L1441.9 1616.8 L1443.9 1615.5 L1445.9 1614.2 L1447.9 1612.9 L1449.9 1611.7 L1451.9 1610.9 L1453.9 1610.5 L1455.9 1610.9 L1457.9 1612.8 L1459.9 1616.6 L1461.9 1621.2 L1463.9 1625.7 L1465.9 1629.1 L1467.9 1630.2 L1469.9 1629 L1471.9 1626.9 L1473.9 1624 L1475.9 1619.8 L1477.9 1614.3 L1479.9 1608.1 L1481.9 1601.9 L1483.9 1596.3 L1485.9 1591.5 L1487.9 1587.6 L1489.9 1584.4 L1491.9 1581.7 L1493.9 1579.6 L1495.9 1577.9 L1497.9 1576.5 L1499.9 1575.2 L1501.9 1574 L1503.9 1572.7 L1505.9 1571.3 L1507.9 1569.7 L1509.9 1567.7 L1511.9 1565.2 L1513.9 1562.2 L1515.9 1559.2 L1517.9 1557.2 L1519.9 1556.9 L1521.9 1558.8 L1523.9 1562.3 L1525.9 1566.9 L1527.9 1572.2 L1529.9 1577.6 L1531.9 1582.7 L1533.9 1586.9 L1535.9 1590.5 L1537.9 1593.7 L1539.9 1596.6 L1541.9 1599.7 L1543.9 1602.9 L1545.9 1606.4 L1547.9 1610.1 L1549.9 1613.9 L1551.9 1617.8 L1553.9 1621.7 L1555.9 1625.5 L1557.9 1629.3 L1559.9 1632.9 L1561.9 1636.4 L1563.9 1639.7 L1565.9 1642.6 L1567.9 1645.4 L1569.9 1648 L1571.9 1650.6 L1573.9 1653.2 L1575.9 1655.9 L1577.9 1658.7 L1579.9 1661.6 L1581.9 1664.1 L1583.9 1665.8 L1585.9 1666.6 L1587.9 1666.6 L1589.9 1666.2 L1591.9 1665.9 L1593.9 1666.1 L1595.9 1666.9 L1597.9 1668.1 L1599.9 1669.4 L1601.9 1670.4 L1603.9 1671.1 L1605.9 1671.3 L1607.9 1671.2 L1609.9 1670.8 L1611.9 1670.1 L1613.9 1669.1 L1615.9 1667.9 L1617.9 1666.6 L1619.9 1665.1 L1621.9 1663.4 L1623.9 1661.7 L1625.9 1659.9 L1627.9 1658.2 L1629.9 1656.6 L1631.9 1655.2 L1633.9 1654.1 L1635.9 1653.4 L1637.9 1653 L1639.9 1652.9 L1641.9 1653 L1643.9 1653.2 L1645.9 1653.6 L1647.9 1654 L1649.9 1654.4 L1651.9 1654.7 L1653.9 1655.1 L1655.9 1655.4 L1657.9 1655.7 L1659.9 1655.9 L1661.9 1656 L1663.9 1655.9 L1665.9 1655.8 L1667.9 1655.4 L1669.9 1654.9 L1671.9 1654.2 L1673.9 1653.3 L1675.9 1652.3 L1677.9 1651.1 L1679.9 1649.7 L1681.9 1648.1 L1683.9 1646.4 L1685.9 1644.5 L1687.9 1642.5 L1689.9 1640.4 L1691.9 1638.1 L1693.9 1635.6 L1695.9 1633.1 L1697.9 1630.4 L1699.9 1627.6 L1701.9 1624.5 L1703.9 1621.2 L1705.9 1617.5 L1707.9 1613.5 L1709.9 1609.1 L1711.9 1604.1 L1713.9 1598.7 L1715.9 1592.8 L1717.9 1586.5 L1719.9 1579.8 L1721.9 1572.9 L1723.9 1565.9 L1725.9 1559.4 L1727.9 1553.8 L1729.9 1549.2 L1731.9 1545.6 L1733.4 1543.2"/>
<path class="cv" stroke="#f00" stroke-width="6.7" d="M1043.9 1737 L1046.9 1741.2 L1049.9 1740.3 L1052.9 1735.6 L1055.9 1728.2 L1058.9 1719.3 L1061.9 1709.6 L1064.9 1699.6 L1067.9 1689.6 L1070.9 1680.2 L1073.9 1671.7 L1076.9 1664.4 L1079.9 1658.2 L1082.9 1653.1 L1085.9 1648.9 L1088.9 1645.6 L1091.9 1642.9 L1094.9 1640.9 L1097.9 1639.4 L1100.9 1638.4 L1103.9 1638 L1106.9 1638.3 L1109.9 1639.2 L1112.9 1641 L1115.9 1643.5 L1118.9 1647 L1121.9 1651.2 L1124.9 1656.1 L1127.9 1661.5 L1130.9 1667.3 L1133.9 1673.3 L1136.9 1679.5 L1139.9 1685.7 L1142.9 1691.8 L1145.9 1697.6 L1148.9 1702.8 L1151.9 1706.8 L1154.9 1709 L1157.9 1709 L1160.9 1706.6 L1163.9 1702.2 L1166.9 1696.5 L1169.9 1689.8 L1172.9 1682.8 L1175.9 1675.7 L1178.9 1668.6 L1181.9 1661.8 L1184.9 1655.5 L1187.9 1649.9 L1190.9 1645.1 L1193.9 1641.1 L1196.9 1637.8 L1199.9 1635.3 L1202.9 1633.5 L1205.9 1632.4 L1208.9 1631.9 L1211.9 1632.1 L1214.9 1632.9 L1217.9 1634.2 L1220.9 1636.2 L1223.9 1638.7 L1226.9 1641.7 L1229.9 1645.1 L1232.9 1649.1 L1235.9 1653.5 L1238.9 1658.2 L1241.9 1663.1 L1244.9 1668 L1247.9 1672.7 L1250.9 1677.1 L1253.9 1680.9 L1256.9 1684.2 L1259.9 1686.6 L1262.9 1688 L1265.9 1688.3 L1268.9 1687.3 L1271.9 1684.7 L1274.9 1680.9 L1277.9 1676.2 L1280.9 1670.9 L1283.9 1665.5 L1286.9 1660.4 L1289.9 1655.5 L1292.9 1650.9 L1295.9 1646.6 L1298.9 1642.7 L1301.9 1639.2 L1304.9 1636 L1307.9 1633.2 L1310.9 1630.9 L1313.9 1629 L1316.9 1627.5 L1319.9 1626.5 L1322.9 1626 L1325.9 1626 L1328.9 1626.6 L1331.9 1627.7 L1334.9 1629.4 L1337.9 1631.6 L1340.9 1634.2 L1343.9 1637.3 L1346.9 1640.8 L1349.9 1644.6 L1352.9 1648.7 L1355.9 1653 L1358.9 1657.4 L1361.9 1661.5 L1364.9 1665.4 L1367.9 1668.6 L1370.9 1671.2 L1373.9 1672.8 L1376.9 1673.4 L1379.9 1673.1 L1382.9 1671.9 L1385.9 1670 L1388.9 1667.5 L1391.9 1664.4 L1394.9 1660.8 L1397.9 1656.8 L1400.9 1652.5 L1403.9 1648.1 L1406.9 1643.8 L1409.9 1639.6 L1412.9 1635.7 L1415.9 1632.2 L1418.9 1629.4 L1421.9 1627 L1424.9 1625.3 L1427.9 1624.1 L1430.9 1623.5 L1433.9 1623.4 L1436.9 1624 L1439.9 1625.1 L1442.9 1626.8 L1445.9 1629 L1448.9 1631.7 L1451.9 1634.8 L1454.9 1638.1 L1457.9 1641.5 L1460.9 1644.9 L1463.9 1648.3 L1466.9 1651.4 L1469.9 1654.3 L1472.9 1656.8 L1475.9 1658.9 L1478.9 1660.6 L1481.9 1661.7 L1484.9 1662.3 L1487.9 1662.2 L1490.9 1661.4 L1493.9 1659.9 L1496.9 1657.6 L1499.9 1654.8 L1502.9 1651.5 L1505.9 1648 L1508.9 1644.2 L1511.9 1640.3 L1514.9 1636.4 L1517.9 1632.7 L1520.9 1629.2 L1523.9 1626.2 L1526.9 1623.6 L1529.9 1621.5 L1532.9 1619.8 L1535.9 1618.6 L1538.9 1617.9 L1541.9 1617.5 L1544.9 1617.6 L1547.9 1618 L1550.9 1618.8 L1553.9 1620 L1556.9 1621.5 L1559.9 1623.3 L1562.9 1625.5 L1565.9 1627.9 L1568.9 1630.6 L1571.9 1633.5 L1574.9 1636.4 L1577.9 1639.3 L1580.9 1642.1 L1583.9 1644.7 L1586.9 1646.9 L1589.9 1648.8 L1592.9 1650.1 L1595.9 1650.9 L1598.9 1651.1 L1601.9 1650.8 L1604.9 1649.9 L1607.9 1648.5 L1610.9 1646.7 L1613.9 1644.3 L1616.9 1641.6 L1619.9 1638.6 L1622.9 1635.4 L1625.9 1632.2 L1628.9 1628.9 L1631.9 1625.7 L1634.9 1622.7 L1637.9 1620 L1640.9 1617.6 L1643.9 1615.5 L1646.9 1613.8 L1649.9 1612.7 L1652.9 1612.1 L1655.9 1612.1 L1658.9 1612.6 L1661.9 1613.6 L1664.9 1615 L1667.9 1616.7 L1670.9 1618.7 L1673.9 1620.9 L1676.9 1623.2 L1679.9 1625.6 L1682.9 1628.1 L1685.9 1630.4 L1688.9 1632.7 L1691.9 1634.8 L1694.9 1636.6 L1697.9 1638.1 L1700.9 1639.3 L1703.9 1640 L1706.9 1640.3 L1709.9 1640.2 L1712.9 1639.6 L1715.9 1638.5 L1718.9 1637.1 L1721.9 1635.1 L1724.9 1632.8 L1727.9 1630 L1730.9 1626.7 L1733.9 1623 L1734.1 1622.8"/>
</g>
<path class="ax" d="M1044.7 1541.6 V2096M1043.5 2094.8 H1733.1M1044.7 2094.8h-10.8M1044.7 2082.8h-5.4M1044.7 2070.8h-5.4M1044.7 2058.8h-5.4M1044.7 2046.8h-5.4M1044.7 2034.8h-10.8M1044.7 2022.8h-5.4M1044.7 2010.8h-5.4M1044.7 1998.8h-5.4M1044.7 1986.8h-5.4M1044.7 1974.8h-10.8M1044.7 1962.8h-5.4M1044.7 1950.8h-5.4M1044.7 1938.8h-5.4M1044.7 1926.8h-5.4M1044.7 1914.8h-10.8M1044.7 1902.8h-5.4M1044.7 1890.8h-5.4M1044.7 1878.8h-5.4M1044.7 1866.8h-5.4M1044.7 1854.8h-10.8M1044.7 1842.8h-5.4M1044.7 1830.8h-5.4M1044.7 1818.8h-5.4M1044.7 1806.8h-5.4M1044.7 1794.8h-10.8M1044.7 1782.8h-5.4M1044.7 1770.8h-5.4M1044.7 1758.8h-5.4M1044.7 1746.8h-5.4M1044.7 1734.8h-10.8M1044.7 1722.8h-5.4M1044.7 1710.8h-5.4M1044.7 1698.8h-5.4M1044.7 1686.8h-5.4M1044.7 1674.8h-10.8M1044.7 1662.8h-5.4M1044.7 1650.8h-5.4M1044.7 1638.8h-5.4M1044.7 1626.8h-5.4M1044.7 1614.8h-10.8M1044.7 1602.8h-5.4M1044.7 1590.8h-5.4M1044.7 1578.8h-5.4M1044.7 1566.8h-5.4M1044.7 1554.8h-10.8M1044.7 1542.8h-5.4M1044.7 2094.8v10.8M1093.8 2094.8v5.4M1142.9 2094.8v10.8M1192 2094.8v5.4M1241 2094.8v10.8M1290.1 2094.8v5.4M1339.2 2094.8v10.8M1388.3 2094.8v5.4M1437.4 2094.8v10.8M1486.5 2094.8v5.4M1535.6 2094.8v10.8M1584.6 2094.8v5.4M1633.7 2094.8v10.8M1682.8 2094.8v5.4M1731.9 2094.8v10.8"/>
<text class="tk" transform="translate(1025.5 2106.8) scale(1.016 1)" text-anchor="end">0</text>
<text class="tk" transform="translate(1025.5 2046.8) scale(1.016 1)" text-anchor="end">5</text>
<text class="tk" transform="translate(1025.5 1986.8) scale(1.016 1)" text-anchor="end">10</text>
<text class="tk" transform="translate(1025.5 1926.8) scale(1.016 1)" text-anchor="end">15</text>
<text class="tk" transform="translate(1025.5 1866.8) scale(1.016 1)" text-anchor="end">20</text>
<text class="tk" transform="translate(1025.5 1806.8) scale(1.016 1)" text-anchor="end">25</text>
<text class="tk" transform="translate(1025.5 1746.8) scale(1.016 1)" text-anchor="end">30</text>
<text class="tk" transform="translate(1025.5 1686.8) scale(1.016 1)" text-anchor="end">35</text>
<text class="tk" transform="translate(1025.5 1626.8) scale(1.016 1)" text-anchor="end">40</text>
<text class="tk" transform="translate(1025.5 1566.8) scale(1.016 1)" text-anchor="end">45</text>
<text class="tk" transform="translate(1044.5 2142.6) scale(1.016 1)" text-anchor="middle">200</text>
<text class="tk" transform="translate(1142.7 2142.6) scale(1.016 1)" text-anchor="middle">400</text>
<text class="tk" transform="translate(1240.8 2142.6) scale(1.016 1)" text-anchor="middle">600</text>
<text class="tk" transform="translate(1339 2142.6) scale(1.016 1)" text-anchor="middle">800</text>
<text class="tk" transform="translate(1437.2 2142.6) scale(1.016 1)" text-anchor="middle">1000</text>
<text class="tk" transform="translate(1535.4 2142.6) scale(1.016 1)" text-anchor="middle">1200</text>
<text class="tk" transform="translate(1633.5 2142.6) scale(1.016 1)" text-anchor="middle">1400</text>
<text class="tk" transform="translate(1731.7 2142.6) scale(1.016 1)" text-anchor="middle">1600</text>
<text class="tk" transform="translate(1389.4 2200.4) scale(1.016 1)" text-anchor="middle">Hz</text>
<text class="tk" transform="translate(950.7 1805.9) rotate(-90) scale(1.016 1)" text-anchor="middle">dB</text>
<text class="lab" transform="translate(989.3 1500.5) scale(1.055 1)" text-anchor="start">(f)</text>
<rect x="1068" y="1505" width="176.7" height="96.9" fill="#000"/>
<rect x="1060" y="1497" width="176.7" height="96.9" fill="#fff"/>
<path d="M1060 1497V1593.9H1236.7V1497" fill="none" stroke="#7f7f7f" stroke-width="1"/>
<path class="lg" stroke="#000" d="M1065.4 1524.9H1146"/>
<path class="lg" stroke="#f00" d="M1065.4 1569.5H1146"/>
<text class="tk" transform="translate(1154.6 1536.9) scale(1.016 1)" text-anchor="start">4<tspan dy="-14.5" font-size="23.5px">th</tspan></text>
<text class="tk" transform="translate(1154.6 1581.8) scale(1.016 1)" text-anchor="start">FEM</text>
</g>
</svg>
</body></html>
